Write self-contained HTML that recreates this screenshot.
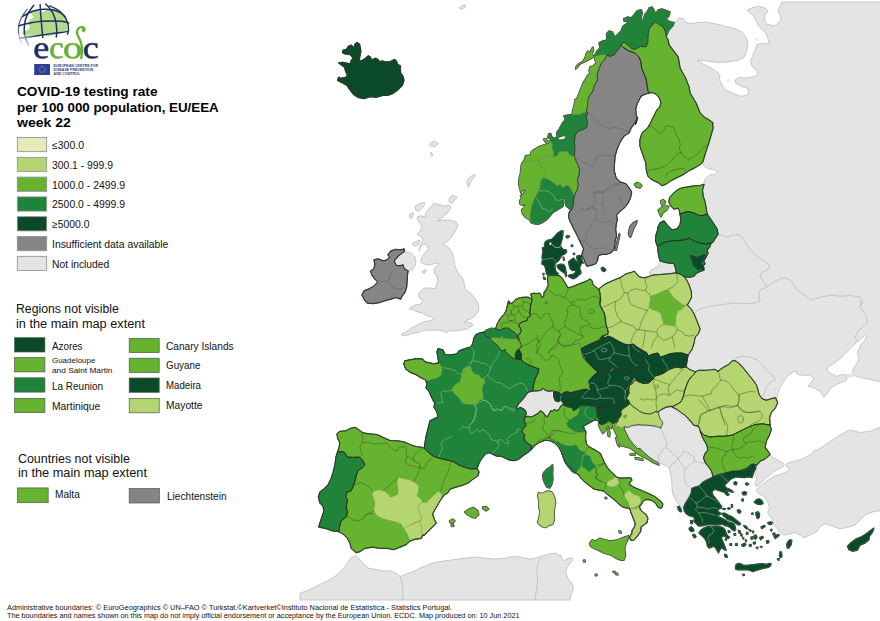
<!DOCTYPE html>
<html><head><meta charset="utf-8"><title>COVID-19 testing rate map</title>
<style>
html,body{margin:0;padding:0;background:#fff;}
body{width:880px;height:621px;position:relative;overflow:hidden;font-family:"Liberation Sans",sans-serif;color:#000;}
#map{position:absolute;left:0;top:0;width:880px;height:621px;}
.t{position:absolute;white-space:nowrap;line-height:1;transform-origin:0 0;color:#111;}
.title{font-weight:bold;color:#000;}
svg .sw{stroke:#8e8e8e;stroke-width:0.8;}
svg .sw2{stroke:#4d5a4d;stroke-width:0.7;}
svg .ni{fill:#e4e4e4;stroke:#bcbcbc;stroke-width:0.8;stroke-linejoin:round;}
svg .c0{fill:#e8ebb9;} svg .c1{fill:#b4d56f;} svg .c2{fill:#65b32e;} svg .c3{fill:#1f8339;} svg .c4{fill:#0b4a28;} svg .na{fill:#858585;}
svg .us use{fill:none;stroke:#1f2e1f;stroke-width:1.4;stroke-linejoin:round;}
svg .fl use{stroke:#7d8f6a;stroke-width:0.4;stroke-linejoin:round;}
svg .fl .c4{stroke:#5f8a6a;}
svg .fl .na{stroke:#6a6a6a;}
svg .nat use{fill:none;stroke:#1f2e1f;stroke-width:0.75;stroke-linejoin:round;}
svg .rb{fill:none;stroke:#3b4a28;stroke-opacity:.6;stroke-width:0.75;stroke-linejoin:round;stroke-linecap:round;}
svg .rbf{fill:none;stroke:#a6c8ac;stroke-opacity:.62;stroke-width:0.75;stroke-linejoin:round;stroke-linecap:round;}
svg .rbd{fill:none;stroke:#c4dcc8;stroke-opacity:.5;stroke-width:0.8;stroke-linejoin:round;stroke-linecap:round;}
svg .rbg{fill:none;stroke:#3a3a3a;stroke-opacity:.33;stroke-width:0.7;stroke-linejoin:round;stroke-linecap:round;}
svg .fl .w{fill:#fff;stroke:#2b3a2b;stroke-width:0.4;}
svg .fj{fill:none;stroke:#cfe0cf;stroke-width:0.7;}
svg .w2{fill:#fff;stroke:#c9c9c9;stroke-width:0.4;}
svg .nif{fill:#e4e4e4;stroke:none;}
svg .nb{fill:none;stroke:#bcbcbc;stroke-width:0.8;stroke-linejoin:round;}
</style></head><body>
<svg id="map" viewBox="0 0 880 621" width="880" height="621">
<g id="geo">
<polygon class="ni" points="673.8,23.8 676.2,21.2 678.8,18 683.8,18.8 685,22 690,23.8 697.5,22.5 706.2,22 715,23.8 725,26.2 735,28.8 742.5,32.5 746.2,37.5 748,43.8 747,51.2 743.8,57.5 737.5,60.5 727.5,62 717.5,62.5 707.5,61.2 697.5,60 703.8,64.5 710,67.5 716.2,71.2 720,75 719.5,80 722,85 725.5,90 732.5,93 740,96.2 746.2,95.5 748.8,92 747,88 741.2,86.2 736.2,83.8 735,80 738.8,77.5 747.5,78 755,76.2 758,73.8 756.2,70 752,66.2 750.5,61.2 752.5,56.2 755,50 757,44.5 762.5,43 769.5,44.5 768,38.8 766.2,33.8 762.5,30 758.8,26.2 756.2,21.2 753,15 748.8,12 747.5,10 752.5,7.5 758.8,6.2 765,8 768,11.2 765,15 764.5,20 766.2,23.8 773.8,26.2 777.5,23.8 781.2,20 780,15 778,11.2 780,6.2 782,2 881.2,2 881.2,382 870,379.5 860,377.5 853,375 852.5,370 855,366.2 858.8,360 857.5,352.5 860,346.2 863.8,341.2 867,337 864.5,335.5 860,339.5 855,343.8 850,348.8 845,353.8 840,358.8 835,362.5 830,365.5 827,368.8 828.8,372.5 832.5,374.5 836.2,376.2 841.2,375 846.2,374.5 848,376.2 846.2,380 841.2,382.5 835,385 830,388.8 827,393.8 823.8,397 820,391.2 813.8,388 808,386.2 811.2,382.5 813.8,378.8 810,375 805,375.5 800,375 797,373.8 796.2,370.8 792.5,372.5 787.5,376.2 783.8,381.2 780,387.5 777.5,395 777,398.8 765,400 735,382.5 695,375 685,372.5 685,350 685,300 682.5,280 682.5,272.5 697.5,245 707.5,215.5 707,210 705,202 703,196 702.4,190 703.6,184.4 704.4,181 706,178 710,175 715,174.4 717.6,172 715,170 709,169 704,166 702.4,162.4 690,162.4 690,110 665,75 660,25"/>
<polygon class="w2" points="755.5,38.8 757,38.2 757.5,40 756,40.5"/>
<polygon class="w2" points="727,80.5 729,79.5 729.5,82 727.5,82.5"/>
<polygon class="ni" points="881.2,427 870,431.2 860,432.5 850,430 840,435 832.5,440 825,445 817.5,450 815,450 810,455 802.5,458.8 795,461.2 787.5,463 786.2,466.2 790,468.8 786.2,472 780,474.5 773.8,476.2 770,478.8 765,482.5 760,486.2 756.2,490 758.8,493.8 763.8,496.2 767.5,501.2 769.5,507.5 767.5,512.5 770,516.2 772.5,520 773.8,525 777.5,528.8 780,532.5 785,535 790,533.8 795,532.5 800,535 803.8,538 810,535 817.5,531.2 820,526.2 825,523.8 832.5,526.2 840,528.8 847.5,527.5 855,525 860,520 865,515 872.5,512 881.2,510.5"/>
<polygon class="ni" points="757,464.5 760,461.2 765,458.8 770,455 773.8,458 778.8,460.5 783,463 784.5,465.5 781.2,468 776.2,470 772,472.5 769.5,475.5 766.2,478 762,482 758,485.5 755.8,486.2 755,482.5 757,478.8 755.5,475 754.5,471.2 756.5,468.8"/>
<polyline class="nb" points="717,235 722.5,235.5 727.5,237.5 732.5,235 738.8,234.5 743.8,238.8 747.5,246.2 753.8,253.8 760,258.8 766.2,262.5 770,265.5 767.5,270 761.2,273 760,276.2 763.8,282.5 767.5,287 772.5,282.5 780,278.8 786.2,278 791.2,281.2 795,287.5 798.8,291.2 805,295 811.2,300 820,297.5 830,295 840,296.2 850,295.5 860,297 862.5,302.5 861.2,305"/>
<polyline class="nb" points="767.5,287 760,290 758.8,295 760,301.2 755,303 745,303.8 735,303 722.5,304.5 710,306.2 700,308.8 695,312.5"/>
<polyline class="nb" points="861.2,300 860,307.5 866.2,315 867.5,322.5 862.5,327.5 857.5,331.2 855,337.5 857.5,341.2"/>
<polyline class="nb" points="735,358 742.5,356.2 750,357 757.5,360 762.5,365 767.5,371.2 772.5,375 775.5,380 770,382.5 766.2,387.5 763.8,393.8 762.5,398.8 765,400"/>
<polygon class="ni" points="434,203.4 439,204.6 444,206 449,205 451,207 449,211 445,215 441,218.6 437,221 443,220 450,220 456,222 458,225 456,230 453,235 450,239 447,242 443,244 446,246 450,249 453,254 454,260 455,266 457,271 460,275 463,279 464.6,285 465.4,289 470,293 475,298 478,303 479,307 479,307 478,312 474,317 468,320 464,322 471,323 473,325 468,328.6 462,330 455,331 449,330.6 446,333 444,331 438,330 431,330.6 425,330 420,332 414,333 408,335 403,336 401,334 406,332 410,329 415,326 420,323.4 425,321.4 431,320.6 434,318.6 432,316.6 427,316 422,313 415,311 410,308 410,310 411,307 415,305 421,304 423,300 419.4,298 418.6,294 421,291 424,288 430,288 435,289 436,286 438,281 437,277 434,272 435,268 439,264 436,263 430,265 424,264 420.6,262 422,257 425,253 428,249 427,245 424,244 421,246 419,251 420,246 422,242 423,238 420,236 417,234 420,231 422,227 420,223 417,219 418,216 422,216 426,217 425,214 428,210 430.6,207"/>
<polygon class="ni" points="415,206 419,204 424,202 425,204 422,208 418.6,211 416,210.6"/>
<polygon class="ni" points="410,214 413,212.6 413.4,215 411.4,218.6 409.4,217.4"/>
<polygon class="ni" points="413,243 417,241 420,240 419,244 415,246.6 412.6,245"/>
<polygon class="ni" points="422,272 425,269.4 426.6,270.6 424,274"/>
<polygon class="ni" points="394,261 398,256 402,253 407,252 412,253.4 415,257 416,262 415,266 412,270 408,271 404,268.6 403,265 400,266 396,265.4"/>
<polygon class="ni" points="516,410 517,406 519,403 522,400 525,396 528,392 532.4,391 536.4,390.8 540.5,390.4 543.3,388.1 545.3,390.4 549.4,391.1 552.8,390.4 554.2,391.8 553.5,395.2 554.9,398.6 558.3,400.7 561,402 563.1,401.3 563.8,404.1 561,406.1 559,409.6 556.3,410.9 554.2,409.6 552.8,411.6 550.8,410.9 549.4,413.7 547.4,417.1 545.3,415.7 543.3,413 540.5,410.9 537.8,413.7 534.4,415.7 531.6,417.1 528.2,416.4 526.2,414.3 525.5,410.9 523.4,408.9 520,407.5 520,409"/>
<polygon class="ni" points="300,593.2 310,589.5 320,584.5 330,579.5 337.5,574.5 343.8,568.2 348.8,560.8 352.5,556.5 356.2,555.8 360,559.5 363.8,564.5 368.8,568.2 375,569.5 382.5,570.8 390,570.8 396.2,573.2 400,576.5 405,574.5 412.5,572 420,568.2 427.5,565 435,562.5 445,560.8 455,559.5 465,558.2 475,557 485,558.2 495,559 505,558.2 512.5,556.5 520,557 530,559.1 535.1,558.3 540.2,556.6 547.1,554.8 552.2,553.5 556.5,553.1 558.2,555.7 560.7,554.8 561.6,558.3 564.1,560.8 568.4,558.3 571.8,557.4 572.7,560 570.1,563.4 567.5,566.8 565.8,571.1 566.7,575.3 568.4,579.6 571.8,583 573.5,586.4 572.7,590.7 571,594.1 570.1,600.1 300,600"/>
<polyline class="nb" points="400,576.5 402,582 403,592 402.5,600"/>
<polygon class="ni" points="624,428 629,426 635,425 642,425.4 649,426 656,427 661,428 662,423 660,419 658,415 659,411 662,408 667,406.6 671,407.4 675,410 679,413 683,417 688,420 692,423 695,427 699,426 701,429 700,433 702,436 704,440 707,445 708,450 705,454 703.6,458 705.6,463 709,467 712,472 715,477 710,482 704,485.4 698,488.6 693,491.4 690,495.4 688,501 686,506 683.2,507.6 682.4,507 679,505 675,499 672.4,493 672,486 671.6,479 670.4,473 669,468 666,466 662,464 658,463 653,460 648,456.6 644,453 640,449 636,445 632,441 629,437 626,432"/>
<polyline class="nb" points="661,428 663,433 665,438 667,443 665.6,447 663,450 660,453 658,457 659,462"/>
<polyline class="nb" points="665.6,447 670,451 674,455 678,458 682,455 683,451 686,452 690,454 694,457 695,461 691,464 688,467 685,469"/>
<polyline class="nb" points="678,458 676,462 672,464 670,468"/>
<polyline class="nb" points="678,458 680,462 685,469 684,474 685,479 686,484 689,487"/>
<polyline class="nb" points="695,461 700,463 705.6,463"/>
<polyline class="nb" points="541.1,557.4 538.5,561.7 536.8,568.5 537.2,575.3 537.7,582.2 536.5,589 535.1,600.1"/>
<polygon class="ni" points="660,260.6 664,262 669,263 674,263.4 675.6,268 676,273 668,274 660,274.6 652,275.4 649,273 651,270 655,268 659,265"/>
<polygon class="ni" points="429.2,144.4 431.7,141.8 435.6,141.6 438.4,143.5 436.2,145.2 434.3,147.4 432.4,146.1 430.2,146.1"/>
<polygon class="ni" points="430.4,152.1 431.7,152.5 432.8,155.7 431.5,156.4"/>
<polygon class="ni" points="466.5,182.1 468.4,178.3 471.6,175.7 474.5,174.4 474.8,176.3 472.3,179.5 470.3,182.8 469.1,186.6 468,187.3 467.8,184.1"/>
<polygon class="ni" points="448.7,200.1 450.4,196.9 453,195 453.6,196.9 456.2,196.3 456.8,198.2 454.3,200.1 452.3,203.4 449.7,202.7"/>
<polygon class="ni" points="459,8 462,5.5 466,5 465,7.5 461,9.5"/>
<polygon class="nif" points="846,374.2 854,373.5 854.5,376.5 847,378"/>
<defs>
<polygon id="p0" points="357.1,42.6 359.6,44.4 360.8,51.4 359.2,59.5 360.2,61.4 364,59.5 368.4,55.8 370.3,57 371.5,60.2 375.3,58.3 377.8,59.5 380.3,62.7 381.6,60.8 385.3,62 389.7,62 394.7,59.5 396.6,61.4 397.3,64.5 400.4,65.8 400.4,72.7 402.9,76.5 403.9,80.3 402.3,85.3 397.9,89.7 392.9,93.4 387.8,95.3 382.8,95.3 376.5,97.2 370.3,96.6 364,98.5 357.7,97.2 353.3,94.1 349.5,89 347,85.3 342.6,82.8 337.6,80.3 338.8,77.1 340.1,78.4 345.1,77.7 347.6,75.9 345.8,71.5 344.5,67.1 338.8,62.9 342.6,62.4 350.2,63.9 351.4,60.2 353.3,58.3 350.2,54.5 345.1,53.9 342.6,52.6 343.2,50.1 346.4,49.5 348.3,46.3 351.4,45.1 353.9,48.2 355.2,43.8"/>
<polygon id="p1" points="621,45 624,48 629,51 635,53 639,57 641,62 641.6,68 644,74 646,79 647,85 648,91 649,93 645,94 641,96 639,100 637,104 635.6,109 636,114 637,118 635.6,124 637.6,118 634,124 631,128 629,133 624,136 620,142 617,149 615,156 614.4,164 614,170 616,178 620,182 626,184 629,188 631.6,192 630.4,198 628,203 624,208 619,212 616.4,215.1 617.2,219.9 616.1,224.7 615.6,229.4 616.4,235.8 615.2,240.6 614.5,245.4 613.6,250.2 610.8,252.6 606.9,254.2 602.1,254.2 598.1,255.8 597.6,259.7 595.7,263.7 590.9,265.3 586.9,266.1 585.3,262.9 583.7,258.1 581.7,255 582.6,252.6 583.7,248.6 582.1,245.4 579.7,240.6 577.4,235.8 575,231 572.6,226.3 570.2,221.5 568.6,216.7 569.4,211.9 571.5,210.3 573,206.3 573.7,200.7 574.2,195.9 575,194.1 577.4,189.3 578.1,184.5 577.4,179.7 578.9,175 579.7,170.2 578.1,165.4 575.8,160.6 574.2,155.8 575,147.8 574.2,141.5 575.3,135.1 578.1,131.1 582.9,129.5 586.9,127.1 587.4,122.3 586.1,116.7 588,112 586.4,112 587.6,105 588,99 590,95 593,91 594,86 597.6,80 597,75 599,69 601,64 605,59 607,55 610,56.4 614,55 617,51 620,47"/>
<polygon id="p2" points="615.2,250.2 617.2,240.6 619.3,233.4 619.9,235 618.3,242.2 616.4,250.2"/>
<polygon id="p3" points="628.4,232.6 630,226.3 633.2,222.7 637.2,220.7 636.4,223.9 634,227.8 632.4,232.6 630.5,237.4 628.9,235.8"/>
<polygon id="p4" points="655.6,22 663,27 665.6,32 666,36.6 668,40 669,45 672,49 675,53 678,57 679,62 680,68 682,72 685,77 687,82 689,87 690,93 693,98 696,103 698,108 700,113 704,117 709,120 713,123 712.4,123 713,128 711,135 709,142 707,148 705,154 703.6,159 702.4,162.4 700,164.4 696,167 690,170 684,174 678,177 672,180 666,184 662,185.6 659,183 655,181 651,179 648,176 646.4,170 646,163 644,158 642,152 640,146 640,140 641,136 643,132 647,129 650,124 651,122 653,118 655,114 657,110 660,107 661,102 659,97 656,94 652,92.4 649,93 648,91 647,85 646,79 644,74 641.6,68 641,62 639,57 635,53 629,51 624,48 621,45 624,42 628,45 632,49 636,49 640,46.4 646,47 648,42 648,36 649,29 652,25"/>
<polygon id="p5" points="594,56.6 595,60 596,63 593,66 590,67 589,71 590,73 587,76 585,80 583,83 581,88 579,93 577,98 575,104 573,109 572.4,112 572,115.4 579,113.6 586.4,112 587.6,105 588,99 590,95 593,91 594,86 597.6,80 597,75 599,69 601,64 605,59 607,55 603,54.4 598,55.6"/>
<polygon id="p6" points="594,56 592,58 588,60 584,62 580,64 577,68 575.6,69 576.4,66 579,63.6 583,61 585,58 586,54 588,51 590,52.4 592,48 593,47 593.6,50 592,55"/>
<polygon id="p7" points="594,56 597,51 600,48 599,43 603,41 607,40 606.4,34 609,31 612.4,32 615,37 618,34 621,31 623,26 626,24 629,22 624,21 623.6,19 628,17 631,18 634,15 637,11 641,9.6 642.4,12 641,20 642.4,22 645,14 647,12 649,8 652,7 654,10 655.6,14 658,10 662,9 666,10.4 670,12 669,16 666,19 669.6,21.6 674,22.4 673,25.6 669,30 666,36.6 665.6,32 663,27 655.6,22 652,25 649,29 648,36 648,42 646,47 640,46.4 636,49 632,49 628,45 624,42 621,45 620,47 617,51 614,55 610,56.4 607,55 603,54.4 598,55.6 594,56.6"/>
<polygon id="p8" points="572.6,114.7 573.4,109.6 574.2,104.8 575,99.2 589.3,99.2 588.5,106.4 588,112 582.9,113.1 578.9,114.7"/>
<polygon id="p9" points="572.6,114.4 578.9,114.7 582.9,113.1 588,112 586.1,116.7 587.4,122.3 586.9,127.1 582.9,129.5 578.1,131.1 575.3,135.1 574.2,141.5 575,147.8 574.2,155.8 570.2,155.8 567.8,151.8 563.8,151.4 559.3,151.8 557.4,155.8 554.2,157.1 552.6,155 553.4,151.8 551.8,147.8 552.6,144.7 550.7,141.8 551,139.1 547.8,137.5 548.6,133.8 550.7,133.5 551.8,137 555,138.3 557.1,136.7 556.6,132.7 559,129.5 560.6,126.3 563,122.3 565.4,119.1 563.8,115.9 567,115.2 570.2,114.7"/>
<polygon id="p10" points="558.2,138 562.2,136.4 565.1,135.9 565.4,138.3 562.2,139.6 558.7,139.6"/>
<polygon id="p11" points="550.7,141.8 547.8,143.9 545.5,144.3 542.3,145.5 538.3,147 534.3,149.4 531.1,151.8 530.3,155 525.5,155.8 523.9,160.9 531.9,161.4 539.1,160.6 542.3,157.7 547.8,156.1 553.4,155.5 553.4,151.8 551.8,147.8 552.6,144.7"/>
<polygon id="p12" points="543.4,139.2 546.3,138.6 547.2,141.1 550.2,140.7 550.7,141.8 547.5,143.4 545.5,142.3"/>
<polygon id="p13" points="523.9,160.9 521.5,163.8 520.7,168.6 520.4,173.4 519.1,178.1 518.8,182.9 519.5,187.7 520.7,192.5 522.3,195.7 518.8,184.8 519.9,189.6 520.7,192 523.9,189.6 525.5,190.4 523.1,194.4 520.4,195.9 521.5,198.3 519.5,200.7 519.9,203.9 522.3,205.5 525.5,203.9 523.9,207.9 521.5,209.5 522.3,213.5 525.5,217.5 529.5,219.9 531.1,222.7 530.3,217.5 530.6,211.9 531.9,205.5 534.3,199.1 537.5,193.6 539.6,187.2 542.3,180 539.6,189.3 539.9,184.5 540.7,181.3 543.1,178.1 545.5,174.2 544.7,170.2 541.8,166.2 539.6,163 539.1,160.6 531.9,161.4"/>
<polygon id="p14" points="539.1,160.6 542.3,157.7 547.8,156.1 553.4,155.5 554.2,157.1 557.4,155.8 559.3,151.8 563.8,151.4 567.8,151.8 570.2,155.8 574.2,155.8 575.8,160.6 578.1,165.4 579.7,170.2 578.9,175 577.4,179.7 578.1,184.5 577.4,189.3 575,194.1 573.7,195.7 572.6,192.5 570.2,187.7 567.8,185.3 565.4,186.1 563,187.7 559.8,184.5 557.4,186.1 554.2,183.7 550.2,180.5 546.3,178.5 543.1,178.1 545.5,174.2 544.7,170.2 541.8,166.2 539.6,163"/>
<polygon id="p15" points="543.1,178.1 546.3,178.5 550.2,180.5 554.2,183.7 557.4,186.1 559.8,184.5 563,187.7 565.4,186.1 567.8,185.3 570.2,187.7 572.6,192.5 573.7,195.7 574.2,195.9 573.7,200.7 573,206.3 571.5,210.3 571,210.3 568.6,207.9 565.7,205.5 565.4,200.7 564.6,196.7 563,199.1 563.8,202.3 563,206.3 560.6,207.9 556.6,210.3 552.6,212.7 549.4,216.7 546.3,219.9 542.3,222.7 538.3,224.3 534.3,223.9 531.1,222.7 530.3,217.5 530.6,211.9 531.9,205.5 534.3,199.1 537.5,193.6 539.6,187.2 542.3,180 539.6,189.3 539.9,184.5 540.7,181.3"/>
<polygon id="p16" points="563,230.8 562.8,234.4 562.2,238.6 560.9,242.7 560.4,246.3 563,249.4 566.1,249.9 566.6,252 564.5,254 562,255.1 560.4,257.6 558.9,260.2 557.3,261.8 555.3,263.3 554.7,265.9 555.3,269.5 556.3,272.1 558.4,273.6 557.3,275.2 553.7,275.2 549.6,275.2 546.5,274.1 546,271 545.5,267.9 544.4,265.4 541.9,263.8 542.4,260.2 542.2,256.1 542.9,252 542.4,247.8 544.9,246.8 544.4,244.2 545.5,241.6 548,240.1 552.2,239.1 554.7,236.5 557.3,233.4 560.4,231.3"/>
<polygon id="p17" points="549.1,244.7 549.6,242.2 551.1,241.9 551.9,244.2 550.6,245.3"/>
<polygon id="p18" points="557,265.4 559.9,264.3 563.5,264.5 565.1,266.9 565.6,270 566.1,272.1 564.5,273.1 562,271.5 559.4,269.5 557.6,267.4"/>
<polygon id="p19" points="565.1,272.8 566.1,272.3 566.3,275.7 565.6,276.7"/>
<polygon id="p20" points="568.7,261.8 571.2,259.7 573.8,258.1 575.4,260.7 576.4,261.8 577.4,263.3 578.5,262.8 577.6,261.2 576.9,258.4 576.9,256.1 579.5,255.3 581.5,256.6 582.1,259.7 582.6,261.8 583.6,262.8 581.5,263.3 580.5,265.4 579.5,267.9 580.5,270.5 581,273.1 578.5,275.2 575.9,277.7 573.3,278.8 569.7,277.2 568.1,275.7 570.7,274.6 573.8,274.1 575.9,272.1 575.4,270 572.3,270.5 570.2,268.5 569.2,265.4"/>
<polygon id="p21" points="601.1,268.5 602.7,267.2 604.7,268.5 605.8,270 604.2,271.5 602.2,270.7"/>
<polygon id="p22" points="566.1,236.5 568.1,235.7 569.7,236.3 568.1,237.7 566.6,237.7"/>
<polygon id="p23" points="571.2,245.3 572.5,244.9 572.8,246.3 571.5,246.5"/>
<polygon id="p24" points="573.3,253.5 574.5,253.2 574.6,254.3 573.5,254.5"/>
<polygon id="p25" points="563,257.1 563.8,257.3 564.5,260.2 563.8,260.4"/>
<polygon id="p26" points="542.9,273.6 543.9,273.4 543.7,275.2"/>
<polygon id="p27" points="543.4,277.2 544.9,277.7 545.5,279.3 543.9,279"/>
<polygon id="p28" points="704,184.4 700,185.6 694,186 688,187 682,188 678,189.6 675,192 672,195 669.6,198 669,202 671,206 674,209 678,208 679.6,211 680,214 685,212 689,211.6 694,213 698,215 702,215.6 707,214 706,208 705,202 703,196 702.4,190"/>
<polygon id="p29" points="660.4,201 663,199.6 665.6,201.6 664.4,204.4 661.6,205"/>
<polygon id="p30" points="658,210 662,207 667,205.6 669,206.4 667,210 663,213 661,217 659.6,214"/>
<polygon id="p31" points="634.4,184.4 637,182.4 640,183.6 642,186 640,188 636,187"/>
<polygon id="p32" points="680,214 685,212 689,211.6 694,213 698,215 702,215.6 707,214 717,229 718,234 713,242 711,243 706,244 700,243 694,241 689,238 684,240 676,240.6 668,241.4 662,243.4 657.6,246.6 655.6,241 656,235 658,229 657.6,228 660,223 664,221 667,225 672,230 677,229 680,225 681,219"/>
<polygon id="p33" points="657.6,246.6 662,243.4 668,241.4 676,240.6 684,240 689,238 694,241 700,243 706,244 711,243 709.6,247 707,250 708,253 706,257 703.6,261 705,264 702.4,266 704,270 700,271.4 696.4,273 694,276 689,277.4 684,276.6 680,274 676.4,273 675.6,268 674,263.4 669,263 664,262 660,260.6 659,257 658,251"/>
<polygon id="p34" points="689,254 692.4,255 697,256.6 701,255 705,253.4 706,256 704,260 702,263 704,268 703,270.6 700,269.4 698,271.4 695.6,268 693,267 692,263 691,259 689.6,256.6"/>
<polygon id="p35" points="599,290 600,288 604,285 610,282 616,279.4 621,277.4 626,274 631,272.6 634.4,271.4 636.4,274 639,277 644,278 649,276.6 652,275.4 660,274.6 668,274 676.4,273 680,274 684,276.6 687,281 689,285 691,291 691.6,297 689,302 687,305 691,309 694,314 696,319 698,324 700,329 698,334 695,337 694,343 692,349 688,355 682,353 675,353 669,354 664,356 660,357 658,353 653,354 648,356 647,353 642,350 637,347 633,344 629,345 624,344 618,341 613,338 608,336 605,338 602,336 608,334 607.6,330 606,325 605,319 604,313 601.6,309 599.6,305 601,300 600,295"/>
<polygon id="p36" points="651,296 657,294 663,291 668,289.4 671,294 674,298 678,301 682,304 685,306 682,309 678,311 676,316 675.6,322 675,326 670,325.4 664,324.6 662,319 661,314 657,311 652,310 649,307 650,301"/>
<polygon id="p37" points="548,275.6 559,275.6 562,278 565,283 568,288 572,287 577,285 582,283 587,281 590,279 592,281 593,285 597,288 599,290 600,292 600.4,297 599.6,303 601.6,308 604,312 605.6,318 606,324 607.6,329 608.4,332 607.6,334.4 604,335.6 603,338.4 599,341 594,343 589,345 584,347 581,349 582,353 583.6,358 588,363 593,368 597.6,371 599,374 594.6,374.7 591.8,377.4 589.1,380.8 588.4,383.6 590.4,385 589.8,387.1 590.9,389.6 589.3,390.7 586.2,389.1 583.1,389.6 579,390.7 574.9,391.7 570.8,392.7 566.6,391.7 563.6,392.7 561.5,394.8 559.4,392.7 556.3,391.7 553.8,392.2 554.2,391.8 552.8,390.4 549.4,391.1 545.3,390.4 543.3,388.1 540.5,390.4 536.4,390.8 533,390.8 533.6,384 535,379 537.6,374 539,369.6 536.5,368.1 532.8,366.5 528.6,364.9 525.5,363.4 523.4,361.8 521.1,359.2 521.5,357.1 521.3,354 520,351.3 518.7,349.2 520.8,347.7 521.5,345.6 520.2,342.4 519.2,339.8 518.3,337.7 518.1,335.6 520.2,333 521.3,330.4 520.2,327.8 518.7,325.7 520.2,323.1 523.4,321.5 527,320.5 527.6,317.8 530.7,315.8 529.6,313.1 530.2,310 530.3,307.8 530.7,305.1 531.4,302.3 532.1,299.5 531,294 533.4,293.3 536.2,293.7 539.7,293.3 541.1,295.4 541.7,297.5 543.8,296.8 544,293 546,290 548.4,285 547.6,280"/>
<polygon id="p38" points="532.1,299.5 530.7,298.8 528.9,297.5 525.8,297.3 522.4,297.5 518.9,298.1 516.1,299.5 514.1,301.3 512,303.3 508.9,304 509.6,301.6 508.5,301.3 507.5,305.1 506.8,308.5 505.8,311.6 504.4,314.1 502.3,316.5 500.2,318.9 498.5,321.7 497.1,324.4 496.7,325.7 495.6,328.8 500.3,329.9 504.5,328 508.7,328 511,330.4 514,332 516.9,334.6 517.3,336.7 516.6,338.3 517.6,339.5 519.2,339.8 518.3,337.7 518.1,335.6 520.2,333 521.3,330.4 520.2,327.8 518.7,325.7 520.2,323.1 523.4,321.5 527,320.5 527.6,317.8 530.7,315.8 529.6,313.1 530.2,310 530.3,307.8 530.7,305.1 531.4,302.3"/>
<polygon id="p39" points="489.9,337.4 493,337.7 496.2,337.4 500.3,337.7 503.5,338.3 507.7,338.5 511.9,339.1 515,338.8 516.6,338.3 519.2,339.8 520.2,342.4 521.5,345.6 520.8,347.7 518.7,349.2 516.6,350.8 515.5,354 515.2,356.6 516,358.7 514,358.7 511.3,357.1 509.2,355 506.6,352.9 505.6,351.3 505.4,349.2 504,350.3 501.4,350.8 499.8,348.7 497.7,345.6 495.1,343.5 492.5,341.4 490.9,339.8"/>
<polygon id="p40" points="484.1,332 486.7,329.9 490.9,328.3 495.6,328.8 500.3,329.9 504.5,328 508.7,328 511,330.4 514,332 516.9,334.6 517.3,336.7 516.6,338.3 515,338.8 511.9,339.1 507.7,338.5 503.5,338.3 500.3,337.7 496.2,337.4 493,337.7 489.9,337.4 486.2,336.2 484.7,334.1"/>
<polygon id="p41" points="501.2,336.4 502.6,336.2 502.9,337.8 501.4,338"/>
<polygon id="p42" points="516.6,350.8 518.7,349.2 520,351.3 521.3,354 521.5,357.1 521.1,359.2 518.7,359.7 516,358.7 515.2,356.6 515.5,354"/>
<polygon id="p43" points="581,349 586,346 592,343 599,340 602,336 605,338 608,336 613,338 618,341 624,344 629,345 633,344 637,347 642,350 647,353 648,356 645,359 642,364 639,368 635,370 633,372 629,370.6 624,369.4 618,368 612,368 609,372 605,374 599,372 595,370 592,366 588,362 585,357 583.6,353"/>
<polygon id="p44" points="648,356 653,354 658,353 660,357 664,356 669,354 675,353 682,353 688,355 687,361 686,367 681,368 677,367 673,368 668,370 664,373 659,375 655,376 653,379 649,383 643,383.4 639,382 636,379 633,376 633,372 635,370 639,368 642,364 645,359"/>
<polygon id="p45" points="598,371.3 599.3,374 602.1,373.6 605.5,373.3 608.6,374 611,371.9 613,369.9 615.8,367.8 619.9,368.5 624,369.2 628.1,369.9 631.5,371.3 632.2,374.7 634.2,377.4 629.6,385 629.1,387.6 628.6,390.2 629.1,393.2 627.6,395.8 626.5,398.4 628.6,400.5 625.4,402 621.3,403 617.2,404.1 614.1,405.1 611,406.6 608.4,407.9 604.8,407.5 600.7,407.7 597.1,407.2 593.5,406.1 589.3,405.6 585.2,405.1 581.1,405.1 579,407.2 575.9,409.2 573.4,410.8 572.8,408.2 570.3,407.2 567.2,406.6 564.1,405.6 563,402 560.5,399.9 558.4,401.5 555.3,400.5 553.8,396.3 553.8,392.2 556.3,391.7 559.4,392.7 561.5,394.8 563.6,392.7 566.6,391.7 570.8,392.7 574.9,391.7 579,390.7 583.1,389.6 586.2,389.1 589.3,390.7 590.9,389.6 589.8,387.1 590.4,385 589.1,380.8 591.8,377.4 594.6,374.7"/>
<polygon id="p46" points="597.1,407.2 600.7,407.7 604.8,407.5 608.4,407.9 611,406.6 614.1,405.1 617.2,404.1 621.3,403 625.4,402 628.5,400.5 629.6,403 628.6,405.1 625.5,407.2 622.4,409.2 620.9,411.8 621.4,414.4 620.4,417 618.3,419 617.8,421.6 616.2,422.3 613,423.7 611,422.6 608.9,421.1 606.9,422.6 603.8,424.2 601.2,424.7 599.4,423.1 599.6,420.6 598.6,418.5 597.1,415.9 597.6,412.8 596.5,410.3"/>
<polygon id="p47" points="635,380 639,382 643,383.4 649,383 653,379 655,376 659,375 664,373 668,370 673,368 677,367 681,368 686,367 689.2,369.4 692.7,370.8 695.4,372.1 694,374.2 691.3,376.9 688.6,380.4 687.2,383.8 685.8,387.2 684.5,391.3 683.8,394.7 682.7,398.1 681,401.6 678.3,403.6 674.9,405.4 672.1,406.8 672,406 666,407 662,409 659,411 657,412.6 656.4,411.3 653.4,412.8 650.3,413.9 646.1,413.7 642,412.6 639.4,411.3 636.9,409.2 633.8,407.2 631.2,405.1 629.6,403 628.6,400.5 626.5,398.4 627.6,395.8 629.1,393.2 628.6,390.2 629.1,387.6 629.6,385 632,384"/>
<polygon id="p48" points="388,255 391,251 396,249.4 401,250 404,249 404.6,251 402,253 398,256 394,261 396,265.4 400,266 403,265 404,268.6 408,271 407.4,275 407,281 406.6,287 405,292 402,296 400.6,299 396,297.4 391,299 385,300.6 379,302.6 373,303.6 367.4,303 364.6,300 362,295 364,291 369,289 374,286 378,282 375,279 372,275 370.6,271 374,269 375,264 374,260 378,259 383,261 387,260 390,257"/>
<polygon id="p49" points="485,332 480,333 476,334.6 474,338 473,343 471,347 465,348.6 459,351 457,354 451,355 445,354.6 443,350 438,348.6 437,352 438,358 439,363 434,364 429,363 425,362 422,359 416,359 410,360 405,361 404,364 406,369 410,372 415,374 420,377 425,379.4 426,381 427,384 426,388 429,391 431,396 433,400 435,403 434,407 437,412 438,417 430,421 428,429 426,437 425,443 424.4,448.6 428,452 433,456 438,458 444,459.4 450,460.6 454,462 458,464.6 464,467 470,469 477,468.6 479,463 482,458 485.7,453.7 489.7,452.6 493.1,454.3 496.6,456 500,455.8 503.4,457.1 506.9,458.9 510.3,460.3 514.3,460.6 518.3,459.4 521.1,457.1 524,454.9 527.4,452.6 530.3,450.3 530.9,449.7 531.4,445.7 528.6,444 525.7,441.7 524,438.3 524.6,434.9 522.3,432 521.7,429.7 524,428 526.1,425.7 525.1,422.9 524,420 524.6,417.4 526.2,414.3 525.5,410.9 523.4,408.9 520,407.5 516,410 517,406 519,403 522,400 525,396 528,392 532.4,391 533,388 534,383 535.6,378 538,373 539,368.6 536.5,368.1 532.8,366.5 528.6,364.9 525.5,363.4 523.4,361.8 521.1,359.2 518.7,359.7 516,358.7 514,358.7 511.3,357.1 509.2,355 506.6,352.9 505.6,351.3 505.4,349.2 504,350.3 501.4,350.8 499.8,348.7 497.7,345.6 495.1,343.5 492.5,341.4 490.9,339.8 489.9,337.4 486.2,336.2 484.7,334.1 484.1,332"/>
<polygon id="p50" points="439,363 434,364 429,363 425,362 422,359 416,359 410,360 405,361 404,364 406,369 410,372 415,374 420,377 425,379.4 428,380.6 433,379 438,377.4 441,375 442,370 441,366"/>
<polygon id="p51" points="463,369 468,366 471,367 472,371 474,374 479,375 481,378 484,379 485,382 483,385 482,389 483,394 483,399 479,401 476,404 471,404.6 466,404 462,403 460,399 457,396 454,393 451.6,390 453,387 456,384 460,382 461,378 462,373"/>
<polygon id="p52" points="544,472 547,469 550,467 552.6,464.6 553,469 552.6,474 553,479 552,484 550,488 547,487.4 545,484 543,479 542.6,475"/>
<polygon id="p53" points="337,434 340,431.4 346,431 350,428.6 355,427.4 359,430 363,433 370,434 377,434.6 384,438 390,440.6 398,441 404,442 410,444.6 416,446.6 422,447.4 424.4,448.6 428,452 433,456 438,458 444,459.4 450,460.6 454,462 458,464.6 464,467 470,469 477,468.6 479,472 477.6,476 473,479 468,483 462,485.4 456,487 450,489 447.6,493 444,495 441,499 438,504 435,509 432.4,514 434,519 436,523 432,527 428,531 424,535 423,534.5 421.2,538.2 415,539 410,540.8 406.2,544.5 400,547 393.8,549.5 387.5,548.2 380,548.2 372.5,547 365,548.2 360,551.5 356.2,552.5 351.2,548.2 350,543.2 347.5,538.2 343.8,534.5 338.8,531.5 340,524.5 341.2,520.8 346.2,517 347.5,512 346.2,507 347.5,499.5 345.6,497 347,492 351,491 353,487 355,481 356.4,475 358,470.6 362,468 365,465 362.4,460 359,457 353,457.4 347,457 345,453 342,451.4 337.6,452 339,448 340,443 338,439"/>
<polygon id="p54" points="398,477.4 404,478.6 410,480 416,483 419,487 418,492 417,496 421,499 422,502 419.6,505 418,509 420,513 422,518 419,521 414,523 409,526 404,529 401,524 396,522 390,520.6 384,519 379,517 375,513.4 373.6,509 375,504 374,499 372,494 374,491 379,490 384.4,491 389,495 390,497 394,496 398,494 398,489 397,483"/>
<polygon id="p55" points="438,491.4 441,493 442,495 441,499 438,504 435,509 432.4,514 434,519 436,523 432,527 428,531 424,535 423,534.5 421.2,538.2 422,534.5 421.2,527 420,520.8 422,518 420,513 418,509 419.6,505 422,502 426,503 430,499 434,495"/>
<polygon id="p56" points="403.8,528.2 408.8,525.8 415,523.2 420,520.8 421.2,527 422,534.5 421.2,538.2 415,539 410,540.8 407.5,534.5"/>
<polygon id="p57" points="464.5,512 468.8,509 473.8,507.5 478,510.8 478.8,514.5 475,518.2 471.2,517 467.5,515"/>
<polygon id="p58" points="482.5,507 486.2,506.5 488.8,509 486.2,510.8 483,509"/>
<polygon id="p59" points="449.5,520.8 452.5,519 455,520.8 453,523.2 450,522.8"/>
<polygon id="p60" points="451,525 453,524.5 454,526.2 451.8,526.5"/>
<polygon id="p61" points="337.6,452 342,451.4 345,453 347,457 353,457.4 359,457 362.4,460 365,465 362,468 358,470.6 356.4,475 355,481 353,487 351,491 347,492 345.6,497 347.5,499.5 346.2,507 347.5,512 346.2,517 341.2,520.8 340,524.5 338.8,531.5 332.5,530.8 325,528.2 318.8,527 320,523 322,517 324,511 323,506 320,503 318.4,497 320,492 324,489 328,485 331,479 333,473 335,465 336,457"/>
<polygon id="p62" points="530.9,449.7 531.4,445.7 528.6,444 525.7,441.7 524,438.3 524.6,434.9 522.3,432 521.7,429.7 524,428 526.1,425.7 525.1,422.9 524,420 524.6,417.4 528.2,416.4 531.6,417.1 534.4,415.7 537.8,413.7 540.5,410.9 543.3,413 545.3,415.7 547.4,417.1 549.4,413.7 550.8,410.9 552.8,411.6 554.2,409.6 556.3,410.9 559,409.6 561,406.1 563.8,404.1 564.1,405.6 567.2,406.6 570.3,407.2 572.8,408.2 573.4,410.8 575.9,409.2 579,407.2 581.1,405.1 585.2,405.1 589.3,405.6 593.5,406.1 597.1,407.2 596.5,410.3 597.6,412.8 597.1,415.9 598.6,418.5 599.6,420.6 599.4,423.1 598.6,421.1 596,419.5 592.9,420.6 589.3,422.6 585.7,424.7 583.1,426.2 584.2,429.3 585.7,431.9 585.8,432.8 585.4,436.9 585.8,441.1 586.7,444.7 588.6,446.6 591.8,448.4 595,450.2 598.2,452.1 600.5,453.9 601.9,457.1 602.4,458.1 604.4,462.7 607,467.4 610.6,471.5 614.2,475.1 616.3,477.2 619.9,478.2 624,478.2 628.1,477.9 631.2,478.2 631.8,480.3 629.7,482.3 629.2,484.4 632.3,486.4 636.4,488.5 641.5,490.6 646.2,492.6 650.8,494.7 654.9,496.8 658,499.3 661.1,501.9 662.7,504 662.2,506.5 661.1,508.1 658.6,507.6 657,505.5 655.5,502.9 652.9,500.9 649.8,499.8 646.7,499.3 644.1,500.4 642.6,501.9 641.5,504 640.5,505.5 639.2,506.2 640.1,509.6 642.6,512.2 646,514.7 647.7,518.2 646.9,522.4 643.5,525 640.9,526.7 640.6,531 638.4,534.4 635.8,537.8 633.2,540.3 630.7,539.8 629.8,536.9 632,533.5 632.4,530.1 634.4,527.5 635.5,524.1 634.1,519.9 632.4,515.6 631,512.2 629.8,507.9 627,508 623,507 620,505 616,501 611,497 607,494 604,491 599,490 594,489 590,486 585,482 581,478 578,474 575,472.6 572,469 568,465 565,461 563,456 561,451 558,446 555,443 550,440.6 545,440 540,442 535,445"/>
<polygon id="p63" points="579.5,407.2 581.1,405.1 585.2,405.1 589.3,405.6 593.5,406.1 597.1,407.2 596.5,410.3 597.6,412.8 597.1,415.9 598.6,418.5 596,419.5 592.9,420.6 589.3,422.6 585.7,424.7 583.1,426.2 584.2,429.3 585.7,431.9 584.7,431.9 581.1,432.6 577,432.4 573.4,430.9 569.7,428.3 567.2,426.2 566.6,423.1 568.2,420.6 571.3,419.5 572.8,417.5 575.9,415.9 578,413.9 579,410.8"/>
<polygon id="p64" points="556,442 557.8,441.1 560.6,443.3 564.3,444.7 567.9,445.6 571.6,446.1 574.4,444.7 576.7,445.6 578,447.5 579.4,449.8 581.7,451.1 584.9,451.6 585.4,453 583.5,454.8 582.2,457.6 581.7,460.8 581.2,464.4 580.3,467.2 578.5,470 576.7,472.2 574.4,472.7 572.1,471.3 569.8,468.6 567.5,465.8 565.6,463.1 564.3,460.3 563.3,457.1 562,453.4 561.1,450.2 559.2,446.6 557.4,444.3"/>
<polygon id="p65" points="584.9,453.9 587.7,455.3 590.4,456.7 591.3,459.4 592.2,462.2 594.5,464.4 595.9,465.8 595,467.7 592.7,469 590.9,470.9 589,472 586.7,470 584.4,468.1 581.7,466.7 581.7,463.5 582.2,460.3 583.1,457.1"/>
<polygon id="p66" points="606.5,483.4 608.6,480.8 611.6,479.7 614.7,477.2 616.3,477.2 618.4,479.2 619.4,481.8 618.4,484.4 615.8,485.9 612.7,487 609.6,486.4 607,485.9"/>
<polygon id="p67" points="624,494.7 626.1,492.1 629.2,490.6 631.2,492.6 634.3,494.7 638.5,495.7 640.5,497.8 641,500.4 640.5,502.9 638.5,505.5 635.4,507.1 632.8,508.6 630.2,508.6 629.2,506 628.7,502.9 627.1,500.4 625.1,497.8"/>
<polygon id="p68" points="629.8,507.9 632.4,509.1 636.7,508.4 639.2,506.2 640.1,509.6 642.6,512.2 646,514.7 647.7,518.2 646.9,522.4 643.5,525 640.9,526.7 640.6,531 638.4,534.4 635.8,537.8 633.2,540.3 630.7,539.8 629.8,536.9 632,533.5 632.4,530.1 634.4,527.5 635.5,524.1 634.1,519.9 632.4,515.6 631,512.2"/>
<polygon id="p69" points="537.5,495.9 538.6,492.5 542,493.6 545.5,491.8 548.9,490.9 552.3,492.5 554.5,497 555.7,502.7 554.5,508.4 554.1,514.1 554.5,519.8 552.7,524.3 548.9,525.5 545.5,527.7 542,526.6 539.1,524.3 537.5,522 539.1,517.5 539.8,511.8 538.6,506.1 539.1,501.6"/>
<polygon id="p70" points="617.8,421.6 618.3,419 620.4,417 621.4,414.4 620.9,411.8 622.4,409.2 625.5,407.2 628.6,405.1 629.6,403 631.2,405.1 633.8,407.2 636.9,409.2 639.4,411.3 642,412.6 646.1,413.7 650.3,413.9 653.4,412.8 656.4,411.3 657.5,411.8 658.5,414.9 659.5,418 661.1,420.6 662.6,422.6 661.6,425.2 660.6,427.8 658.5,426.8 655.4,425.7 651.3,425.2 647.2,424.7 643,424.7 638.9,424.2 634.8,424.7 630.7,425.7 627.6,427.3 624.5,426.2 621.4,428.3 618.3,426.2 614.7,427.3 616.2,424.7"/>
<polygon id="p71" points="623.5,415.9 625.5,414.4 627.1,415.4 625.5,418 624,418.5"/>
<polygon id="p72" points="598.6,423.7 601.2,424.7 603.8,424.2 606.9,422.6 608.9,421.1 611,422.6 613,423.7 612,426.2 611,428.8 609.4,427.3 607.9,425.7 606.6,427.3 605.8,429.8 604.3,432.4 602.7,433.5 601.2,430.9 599.6,427.8 598.6,425.2"/>
<polygon id="p73" points="613,423.7 616.2,422.3 617.8,421.6 616.2,424.7 614.7,427.3 618.3,426.2 621.4,428.3 624,426.8 624.5,430.4 626.5,434.5 628.6,438.6 631.2,442.2 633.8,445.3 636.9,448.4 640,449 644,453 648,456.6 653,460 658,463 659,465 653,462.6 648,459.4 644,457.4 639,454.6 634,451 630,448 621.4,445.8 619.3,442.7 617.8,438.6 616.2,434.5 614.7,431.4 613.1,428.3"/>
<polygon id="p74" points="607.2,428.6 608.8,428.2 610,433 609.6,437 608,436"/>
<polygon id="p75" points="615.6,438 617.2,437.6 619.2,443 619.6,447 617.6,445"/>
<polygon id="p76" points="630,454 635,453.4 635.2,455 630.4,455.4"/>
<polygon id="p77" points="635,457.4 642.4,458.6 643.2,460.2 636,459.4"/>
<polygon id="p78" points="672.1,406.8 674.9,405.4 678.3,403.6 681,401.6 682.7,398.1 683.8,394.7 684.5,391.3 685.8,387.2 687.2,383.8 688.6,380.4 691.3,376.9 694,374.2 695.4,372.1 698.8,370.4 704.3,370.4 709.8,370.1 714.6,369.4 718,371.7 720.7,369.4 724.8,366.7 728.9,364.6 733,360.5 735.8,361.2 738.5,363.3 741.9,366.7 745.3,370.8 748.1,374.2 750.8,377.6 753.5,381 756.3,385.1 757.6,389.2 759,394.7 762,398.8 766.2,400.5 771.2,398.8 775.5,398 777.5,402.5 775.5,407.5 771.2,412.5 769.5,417.5 770,425 762.5,423.8 755,424.5 747.5,427.5 740,431.2 732.5,435 725,436.2 717.5,436.2 710,437 703.8,435 700.5,431.2 698.8,426.2 693.8,425 690,420 686.2,416.2 681.2,412.5 676.2,408.8"/>
<polygon id="p79" points="700.5,431.2 703.8,435 710,437 717.5,436.2 725,436.2 732.5,435 740,431.2 747.5,427.5 755,424.5 762.5,423.8 770,425 771.2,430 768.8,436.2 766.2,441.2 765,447.5 768.8,452.5 770,454.5 765,458.8 760,461.2 757,464.5 750,465.4 746,468.6 740,470.6 734,472.2 728,472.6 722,473.6 717,475 713,476.6 712,472 709,467 705.6,463 703.6,458 705,454 708,450 707,445 704,440 702,436"/>
<polygon id="p80" points="683.7,507.7 685,504.2 687.1,500.8 689.2,497.4 691.2,493.3 691.9,488.5 695.3,487.1 699.4,485.8 702.8,482.4 706.3,480.3 710.4,478.3 714.5,476.2 718.6,475.5 722.7,474.2 726.8,472.1 730.9,470.7 735.7,470.3 741.1,470.7 745.9,469.4 749.3,467.3 750.7,463.9 753.4,463.2 755.9,465.3 755.5,468.7 753.7,472.1 752.8,475.5 751.8,477.6 748.7,476.9 744.6,477.6 739.8,477.2 735.7,476.9 732.2,478.3 729.5,480.3 727.5,482.4 725.8,483.7 724.7,485.8 726.1,487.8 728.8,488.9 732.2,490.8 733.2,492.2 730.9,491.9 728.1,490.8 726.1,490.3 727.5,492.6 729.1,494.7 727.5,495.4 725.4,493.6 724,491.7 722.7,491.9 719.9,490.8 717.2,489.9 714.5,489.2 712.7,490.6 712.1,493.3 713.5,496 715.8,498.8 717.9,501.5 719.9,504.2 721.7,506.7 720.9,508.4 718.6,509 717.6,511.1 719.5,512.5 721.3,513.5 719.2,514.9 716.5,515.2 717.9,516.6 720.6,517.7 722.7,518.6 725.4,520 728.1,522 730.9,522.7 733.6,523.4 735,526.1 735.7,529.6 734.3,530.9 732.2,529.6 730.2,527.5 727.5,526.1 724.7,525.5 722.7,524.1 719.2,524.8 715.1,525 711,524.5 706.3,524.8 702.1,525.9 698.7,526.1 696.7,524.1 693.9,521.3 694.6,518.6 693.3,516.6 689.8,515.9 686.4,513.8 684.4,511.1"/>
<polygon id="p81" points="721.7,513.5 724.7,513.1 728.1,515.2 731.6,516.6 734.3,518.6 737,520.7 739.8,522.7 740.5,524.5 738.4,524.8 735.7,523.1 733.2,521.3 730.2,520.4 727.5,519.3 725.4,517.2 723.4,515.9"/>
<polygon id="p82" points="699,533 700.8,530.3 703.5,528.2 706.9,526.8 711,526.6 715.1,526.8 719.2,526.6 722.7,527.5 724.7,529.6 726.1,533 727.5,535.7 729.5,537.1 728.1,538.5 725.4,536.4 722.7,535.7 721.3,537.8 722.7,541.2 724,544.6 725.4,548 726.1,550.4 724,549.4 722,547.4 719.9,549.4 718.6,552.8 717.2,550.8 715.8,548 713.8,546 711,547.4 709,548 707.2,545.3 706.7,541.9 705.3,539.2 702.8,536.4 700.8,534.8"/>
<polygon id="p83" points="735.4,567.2 736.3,564.5 738.4,563.5 741.1,564 743.2,565.1 746.6,565.4 750.7,564.9 754.8,564.5 758.9,564 763,563.8 766.4,564.5 769.2,563.5 771,563.8 770.5,565.8 768.5,567.2 765.8,567.9 762.3,568.6 758.9,569.5 755.5,570.6 752.8,571.7 751.4,570.9 748,569.9 744.6,569.5 741.1,569.9 737.7,569.9 735.7,569.2"/>
<polygon id="p84" points="677.5,507 679.3,506.3 680.9,509 681.6,511.4 680.3,511.8 678.5,509.7"/>
<polygon id="p85" points="690.5,520.7 692.2,520.4 692.6,523.4 691.2,523.7"/>
<polygon id="p86" points="689.2,528.2 691.2,526.8 693.5,528.9 693.9,530.9 691.9,531.6 689.8,530.5"/>
<polygon id="p87" points="692.6,535 694.6,534.3 696,536.8 694.4,537.8"/>
<polygon id="p88" points="734,482.4 735.7,481.7 737,483 736.3,484.8 734.3,484.4"/>
<polygon id="p89" points="745.5,483.5 747.3,483 748.7,484.4 746.6,485.1"/>
<polygon id="p90" points="742.2,492.6 744.6,491.7 746.6,492.6 745.9,494.7 743.2,494.9"/>
<polygon id="p91" points="754.1,502.2 756.9,499.5 759.6,499 761.9,500.8 763,503.6 760.3,504.5 756.9,504"/>
<polygon id="p92" points="755.9,512.5 758.2,511.8 759.6,513.8 759.2,517.2 757.6,518.6 756.2,515.9"/>
<polygon id="p93" points="737.3,510.4 739.1,509.7 740.9,511.8 739.8,513.1 738.1,512.5"/>
<polygon id="p94" points="722.7,509 724,508.4 725.4,509 724.2,509.7"/>
<polygon id="p95" points="727.5,508.4 729.1,507.7 730.2,508.6 728.5,509.3"/>
<polygon id="p96" points="731.3,504.9 732.2,504.5 732.7,506.7 731.6,507.3"/>
<polygon id="p97" points="767.8,522.7 770.5,521.8 772.3,522.7 771.2,524.5 768.5,524.1"/>
<polygon id="p98" points="761,526.8 764.4,525.5 765.1,526.4 761.9,528.6"/>
<polygon id="p99" points="741.8,499.5 743.2,499 743.5,500.8 742.1,501.1"/>
<polygon id="p100" points="751.8,513.1 752.9,512.9 753,514.2 751.9,514.4"/>
<polygon id="p101" points="724.7,554.2 726.4,554.9 727.5,556.9 726.1,557.6 724.7,555.8"/>
<polygon id="p102" points="742.8,574.4 744.1,574.2 744.4,575.4 743.1,575.5"/>
<polygon id="p103" points="786.6,544.6 787.9,541.9 790,539.8 791.8,540.5 791.1,544.6 789,548 787.4,548"/>
<polygon id="p104" points="780.1,551.7 781.5,552.1 781.9,556.7 780.5,557.6 779.4,555.8"/>
<polygon id="p105" points="777.4,559 779.2,558.6 778.8,560.4"/>
<polygon id="p106" points="774,536.4 778.1,534.4 779.2,535.3 775.3,538.5"/>
<polygon id="p107" points="772.9,533.4 774.7,533 775.1,534.8 773.3,535"/>
<polygon id="p108" points="770.5,529.6 771.9,529.3 771.5,531.2"/>
<polygon id="p109" points="743.6,525.5 745.9,526.2 747.7,528.2 746.6,528.9 744.6,527.1"/>
<polygon id="p110" points="748.7,529.3 751,530.3 750.4,531.2"/>
<polygon id="p111" points="752.1,530.9 753.7,531.6 753.2,533"/>
<polygon id="p112" points="754.1,535.7 755.9,535 756.9,537.1 755.5,539.2 754.1,538.1"/>
<polygon id="p113" points="751,537.1 752.8,536.7 752.9,538.9 751.3,539.2"/>
<polygon id="p114" points="746.6,532.3 748,532.6 747.7,534.4 746.3,534"/>
<polygon id="p115" points="738.4,530.3 740,530.9 740.5,533 739.1,533"/>
<polygon id="p116" points="740.9,533.7 742,534.4 741.7,536.1 740.6,535.3"/>
<polygon id="p117" points="742.5,537.1 743.9,537.8 743.2,539.2"/>
<polygon id="p118" points="745.2,539.8 746.6,540.5 745.9,541.9"/>
<polygon id="p119" points="741.8,544.6 744.6,543.3 745.9,544.4 743.9,546.3 742.2,546"/>
<polygon id="p120" points="735.4,543.9 737,543.5 737.3,545.3 735.7,545.4"/>
<polygon id="p121" points="729.9,543.9 731.3,543.5 731.6,545.3 730.2,545.4"/>
<polygon id="p122" points="753.2,542.6 755.1,541.9 755.5,543.5 753.7,544.1"/>
<polygon id="p123" points="756.2,547.4 757.8,547.1 757.6,548.7"/>
<polygon id="p124" points="749.3,544.6 751,544.4 751.3,546 749.6,546.3"/>
<polygon id="p125" points="759.6,537.8 762.3,536.4 763.3,537.5 760.6,539.8"/>
<polygon id="p126" points="766.4,541.2 768.5,540.5 768.8,542.6 766.9,543.3"/>
<polygon id="p127" points="760.3,546.7 761.7,546.3 761.9,547.6"/>
<polygon id="p128" points="728.1,530.9 729.5,530.7 729.9,532.3 728.5,532.6"/>
<polygon id="p129" points="734,533.7 735.4,533.4 735.7,535 734.3,535.3"/>
<polygon id="p130" points="725.4,538.5 726.4,538.2 726.6,540 725.5,540.1"/>
<polygon id="p131" points="847.5,546.2 851.2,542.5 856.2,538.8 861.2,537 866.2,533.8 871.2,530 873.8,528.2 872.5,532 869.5,536.2 868.8,540 865,543 860,545 857.5,550 852.5,551.2 848.8,549.5"/>
<polygon id="p132" points="589.7,542.9 592.3,539.8 595.7,540.9 600,538.1 605.1,539.8 610.2,540.9 615.3,540.3 620.4,538.6 624.7,536.9 628.6,535.7 628.1,539.5 625.9,543.8 624.7,548.9 625.6,554 624.7,558.3 623.9,560.3 620.4,560 616.2,558.3 611.9,555.7 607.6,554 603.4,552.8 599.1,550.6 594.8,548.9 591.4,547.2 589.7,544.9"/>
<polygon id="p133" points="618.7,531 620.8,531.3 621.3,533 619.6,533"/>
<polygon id="p134" points="583.2,560.3 584.9,560 585.5,561.7 583.8,562"/>
<polygon id="p135" points="595.2,574.5 596.9,574.1 597.1,575.5 595.4,575.7"/>
<polygon id="p136" points="612.8,571.6 614.5,571.1 615.7,572.6 614,572.9"/>
<polygon id="p137" points="615.3,573.1 617.4,573.3 618.1,574.8 616.2,574.8"/>
<polygon id="p138" points="605.1,497.3 606.8,497.7 606.6,498.9 605.1,498.5"/>
</defs>
<g class="us">
<use href="#p0"/>
<use href="#p1"/>
<use href="#p2"/>
<use href="#p3"/>
<use href="#p4"/>
<use href="#p5"/>
<use href="#p6"/>
<use href="#p7"/>
<use href="#p8"/>
<use href="#p9"/>
<use href="#p11"/>
<use href="#p12"/>
<use href="#p13"/>
<use href="#p14"/>
<use href="#p15"/>
<use href="#p16"/>
<use href="#p18"/>
<use href="#p19"/>
<use href="#p20"/>
<use href="#p21"/>
<use href="#p22"/>
<use href="#p23"/>
<use href="#p24"/>
<use href="#p25"/>
<use href="#p26"/>
<use href="#p27"/>
<use href="#p28"/>
<use href="#p29"/>
<use href="#p30"/>
<use href="#p31"/>
<use href="#p32"/>
<use href="#p33"/>
<use href="#p34"/>
<use href="#p35"/>
<use href="#p36"/>
<use href="#p37"/>
<use href="#p38"/>
<use href="#p39"/>
<use href="#p40"/>
<use href="#p41"/>
<use href="#p42"/>
<use href="#p43"/>
<use href="#p44"/>
<use href="#p45"/>
<use href="#p46"/>
<use href="#p47"/>
<use href="#p48"/>
<use href="#p49"/>
<use href="#p50"/>
<use href="#p51"/>
<use href="#p52"/>
<use href="#p53"/>
<use href="#p54"/>
<use href="#p55"/>
<use href="#p56"/>
<use href="#p57"/>
<use href="#p58"/>
<use href="#p59"/>
<use href="#p60"/>
<use href="#p61"/>
<use href="#p62"/>
<use href="#p63"/>
<use href="#p64"/>
<use href="#p65"/>
<use href="#p66"/>
<use href="#p67"/>
<use href="#p68"/>
<use href="#p69"/>
<use href="#p70"/>
<use href="#p71"/>
<use href="#p72"/>
<use href="#p73"/>
<use href="#p74"/>
<use href="#p75"/>
<use href="#p76"/>
<use href="#p77"/>
<use href="#p78"/>
<use href="#p79"/>
<use href="#p80"/>
<use href="#p81"/>
<use href="#p82"/>
<use href="#p83"/>
<use href="#p84"/>
<use href="#p85"/>
<use href="#p86"/>
<use href="#p87"/>
<use href="#p88"/>
<use href="#p89"/>
<use href="#p90"/>
<use href="#p91"/>
<use href="#p92"/>
<use href="#p93"/>
<use href="#p94"/>
<use href="#p95"/>
<use href="#p96"/>
<use href="#p97"/>
<use href="#p98"/>
<use href="#p99"/>
<use href="#p100"/>
<use href="#p101"/>
<use href="#p102"/>
<use href="#p103"/>
<use href="#p104"/>
<use href="#p105"/>
<use href="#p106"/>
<use href="#p107"/>
<use href="#p108"/>
<use href="#p109"/>
<use href="#p110"/>
<use href="#p111"/>
<use href="#p112"/>
<use href="#p113"/>
<use href="#p114"/>
<use href="#p115"/>
<use href="#p116"/>
<use href="#p117"/>
<use href="#p118"/>
<use href="#p119"/>
<use href="#p120"/>
<use href="#p121"/>
<use href="#p122"/>
<use href="#p123"/>
<use href="#p124"/>
<use href="#p125"/>
<use href="#p126"/>
<use href="#p127"/>
<use href="#p128"/>
<use href="#p129"/>
<use href="#p130"/>
<use href="#p131"/>
<use href="#p132"/>
<use href="#p133"/>
<use href="#p134"/>
<use href="#p135"/>
<use href="#p136"/>
<use href="#p137"/>
<use href="#p138"/>
</g>
<g class="fl">
<use class="c4" href="#p0"/>
<use class="na" href="#p1"/>
<use class="na" href="#p2"/>
<use class="na" href="#p3"/>
<use class="c2" href="#p4"/>
<use class="c2" href="#p5"/>
<use class="c2" href="#p6"/>
<use class="c3" href="#p7"/>
<use class="c2" href="#p8"/>
<use class="c3" href="#p9"/>
<use class="w" href="#p10"/>
<use class="c2" href="#p11"/>
<use class="c2" href="#p12"/>
<use class="c2" href="#p13"/>
<use class="c2" href="#p14"/>
<use class="c3" href="#p15"/>
<use class="c4" href="#p16"/>
<use class="w" href="#p17"/>
<use class="c4" href="#p18"/>
<use class="c4" href="#p19"/>
<use class="c4" href="#p20"/>
<use class="c4" href="#p21"/>
<use class="c4" href="#p22"/>
<use class="c4" href="#p23"/>
<use class="c4" href="#p24"/>
<use class="c4" href="#p25"/>
<use class="c4" href="#p26"/>
<use class="c4" href="#p27"/>
<use class="c2" href="#p28"/>
<use class="c2" href="#p29"/>
<use class="c2" href="#p30"/>
<use class="c2" href="#p31"/>
<use class="c3" href="#p32"/>
<use class="c3" href="#p33"/>
<use class="c4" href="#p34"/>
<use class="c1" href="#p35"/>
<use class="c2" href="#p36"/>
<use class="c2" href="#p37"/>
<use class="c2" href="#p38"/>
<use class="c2" href="#p39"/>
<use class="c3" href="#p40"/>
<use class="c2" href="#p41"/>
<use class="c4" href="#p42"/>
<use class="c4" href="#p43"/>
<use class="c4" href="#p44"/>
<use class="c4" href="#p45"/>
<use class="c4" href="#p46"/>
<use class="c1" href="#p47"/>
<use class="na" href="#p48"/>
<use class="c3" href="#p49"/>
<use class="c2" href="#p50"/>
<use class="c2" href="#p51"/>
<use class="c3" href="#p52"/>
<use class="c2" href="#p53"/>
<use class="c1" href="#p54"/>
<use class="c1" href="#p55"/>
<use class="c1" href="#p56"/>
<use class="c2" href="#p57"/>
<use class="c2" href="#p58"/>
<use class="c2" href="#p59"/>
<use class="c2" href="#p60"/>
<use class="c3" href="#p61"/>
<use class="c2" href="#p62"/>
<use class="c3" href="#p63"/>
<use class="c3" href="#p64"/>
<use class="c3" href="#p65"/>
<use class="c1" href="#p66"/>
<use class="c1" href="#p67"/>
<use class="c1" href="#p68"/>
<use class="c1" href="#p69"/>
<use class="c1" href="#p70"/>
<use class="c2" href="#p71"/>
<use class="c2" href="#p72"/>
<use class="c2" href="#p73"/>
<use class="c2" href="#p74"/>
<use class="c2" href="#p75"/>
<use class="c2" href="#p76"/>
<use class="c2" href="#p77"/>
<use class="c1" href="#p78"/>
<use class="c2" href="#p79"/>
<use class="c4" href="#p80"/>
<use class="c4" href="#p81"/>
<use class="c4" href="#p82"/>
<use class="c4" href="#p83"/>
<use class="c4" href="#p84"/>
<use class="c4" href="#p85"/>
<use class="c4" href="#p86"/>
<use class="c4" href="#p87"/>
<use class="c4" href="#p88"/>
<use class="c4" href="#p89"/>
<use class="c4" href="#p90"/>
<use class="c4" href="#p91"/>
<use class="c4" href="#p92"/>
<use class="c4" href="#p93"/>
<use class="c4" href="#p94"/>
<use class="c4" href="#p95"/>
<use class="c4" href="#p96"/>
<use class="c4" href="#p97"/>
<use class="c4" href="#p98"/>
<use class="c4" href="#p99"/>
<use class="c4" href="#p100"/>
<use class="c4" href="#p101"/>
<use class="c4" href="#p102"/>
<use class="c4" href="#p103"/>
<use class="c4" href="#p104"/>
<use class="c4" href="#p105"/>
<use class="c4" href="#p106"/>
<use class="c4" href="#p107"/>
<use class="c4" href="#p108"/>
<use class="c4" href="#p109"/>
<use class="c4" href="#p110"/>
<use class="c4" href="#p111"/>
<use class="c4" href="#p112"/>
<use class="c4" href="#p113"/>
<use class="c4" href="#p114"/>
<use class="c4" href="#p115"/>
<use class="c4" href="#p116"/>
<use class="c4" href="#p117"/>
<use class="c4" href="#p118"/>
<use class="c4" href="#p119"/>
<use class="c4" href="#p120"/>
<use class="c4" href="#p121"/>
<use class="c4" href="#p122"/>
<use class="c4" href="#p123"/>
<use class="c4" href="#p124"/>
<use class="c4" href="#p125"/>
<use class="c4" href="#p126"/>
<use class="c4" href="#p127"/>
<use class="c4" href="#p128"/>
<use class="c4" href="#p129"/>
<use class="c4" href="#p130"/>
<use class="c4" href="#p131"/>
<use class="c2" href="#p132"/>
<use class="c2" href="#p133"/>
<use class="c2" href="#p134"/>
<use class="c2" href="#p135"/>
<use class="c2" href="#p136"/>
<use class="c2" href="#p137"/>
<use class="c2" href="#p138"/>
</g>
<polyline class="fj" points="551.9,244.7 554.7,247 557.8,247.8 560.4,246.6"/>
<polyline class="rbd" points="542.4,259.7 546.5,259 552.2,258.1 554.7,259.7 555.3,261.8"/>
<polyline class="rb" points="548.7,290.5 552.1,292.6 554.9,294.6 557.6,296 559.7,294.4 561,296 562.4,298 565.1,296.7 567.2,291.9 567.9,288.5"/>
<polyline class="rb" points="565.1,296.7 567.2,299.4 571.3,302.6 574.7,301.2 578.8,299.4 584.3,300.1 588.4,298.7 592.5,296.7 595.9,296 599.3,298"/>
<polyline class="rb" points="571.3,302.6 572.7,304.9 569.2,306.3 566.5,308.3 567.9,312.4 567.2,316.5 565.8,319.9 564.5,322.7 565.1,326.1"/>
<polyline class="rb" points="572.7,304.9 576.1,305.8 579.5,307.6 580.2,312.4 580.9,317.9 584.3,319.9 587.7,322 589.8,324 587.7,325.4 584.3,326.1 580.9,327.5"/>
<polyline class="rb" points="589.8,324 590.5,327.5 594.6,328.8 599.3,328.1 603.4,326.4 605.5,326.8"/>
<polyline class="rb" points="580.9,327.5 580.2,330.9 581.6,334.3 583.6,336.3 581.6,338.4"/>
<polyline class="rb" points="565.1,326.1 567.9,328.8 571.3,330.2 574.7,332.2 577.5,333.6 580.9,335.7 583.6,336.3"/>
<polyline class="rb" points="565.1,326.1 561.7,328.1 559,330.9 560.4,334.3 559.7,337 558.3,340.5 559,343.2 562.4,345.2 566.5,345.9 570.6,345.2 572.7,343.9 574.7,341.1 578.8,339.8 581.6,338.4"/>
<polyline class="rb" points="526.8,311 530.9,314.5 535,313.1 537.8,315.1 538.5,317.9 541.9,318.6 543.3,314.5 546.7,313.8 549.4,313.5 550.1,317.2 552.1,320.6 553.5,324 552.8,326.8"/>
<polyline class="rb" points="552.8,326.8 549.4,328.8 546.7,330.9 544.6,334.3 542.6,337 540.5,339.8 539.2,341.1"/>
<polyline class="rb" points="552.8,326.8 555.6,330.2 559,330.9"/>
<polyline class="rb" points="539.2,341.1 536.4,338.4 533,340.5 529.6,342.5 526.2,344.6 522.7,345.9 520,346.6"/>
<polyline class="rb" points="539.2,341.1 540.5,344.6 538.5,348 537.1,352.1"/>
<polyline class="rb" points="558.3,340.5 556.3,343.9 553.5,346.6 550.8,349.3 548.7,352.1"/>
<polyline class="rb" points="553.5,355.5 556.3,357.6 559,360.3 559.7,364.4 561,368.5 563.1,371.9 561,375.4 559,378.8 559.7,382.9 560.4,387.7 559.7,391.1"/>
<polyline class="rb" points="536.4,352.8 540.5,354.2 542.6,358.3 545.3,360.3 549.4,359.6 550.8,356.9 553.5,355.5"/>
<polyline class="rb" points="550.8,356.9 548.7,352.8 550.1,350 554.2,348.7 557.6,345.3 559,343.2 557.6,339.8 559.7,336.4 561,335"/>
<polyline class="rb" points="559,343.2 562.4,345.3 565.1,347.3 567.2,345.3 570.6,345.9 572.7,343.9 576.1,344.6 578.8,342.5 580.2,345.3 582.2,348"/>
<polyline class="rb" points="536.4,352.8 537.8,348.7 536.4,345.3 538.5,341.8 537.1,338.4 537.8,335"/>
<polyline class="rb" points="526.2,358.9 528.9,358.3 530.9,360.3 530.3,363 528.2,364.4"/>
<ellipse class="rb" cx="591.5" cy="311.7" rx="3.0" ry="2.2"/>
<ellipse class="rb" cx="546.0" cy="302.6" rx="1.1" ry="1.1"/>
<polyline class="rbd" points="588.4,383.6 591.1,382.9 594.6,383.6 596.6,386.3 597.3,389.7 598,392.5 600.7,395.2 600,397.9 596.6,399.3 592.5,398.6 588.4,397.9 584.3,398.6 581.6,397.2 583.6,395.2 585.7,392.5 587.7,391.1"/>
<polyline class="rbd" points="608.6,374 610.3,376.7 608.9,380.1 607.6,382.9 609.6,385.6 607.6,387.7 603.4,388.4 599.3,389.7 597.3,389.7"/>
<polyline class="rbd" points="609.6,385.6 614.4,385.3 618.5,386.3 621.9,387.7 624,389.7 625.3,392.5 624.7,396.6 625.3,400"/>
<polyline class="rbd" points="600,397.9 604.8,398.6 608.9,397.9 613,398.6 614.4,402 613.7,404.1"/>
<polyline class="rbd" points="634.2,377.4 632.2,381.5 629.4,384.9 628.1,387.7 626,389.7 625.3,392.5"/>
<polyline class="rbd" points="561,395.9 560.4,398.6 561,402"/>
<polyline class="rbd" points="585,354.2 589.8,352.8 593.9,350.7 596.6,348.7 600.7,346.6 604.1,344.6 607.6,343.2 609.6,341.8"/>
<polyline class="rbd" points="593.9,350.7 596.6,354.2 598,358.9 602.1,359.4 607.6,358.3 610.3,357.6"/>
<polyline class="rbd" points="609.6,341.8 612.3,345.9 614.4,350 613.7,353.5 610.3,357.6 608.9,360.3 613,363.7 617.1,366.5"/>
<polyline class="rbd" points="614.4,352.8 619.9,354.2 625.3,355.5 629.4,356.2"/>
<polyline class="rbd" points="628.1,344.6 628.8,350 629.4,356.2 631.5,361 634.9,364.4 637.6,365.8"/>
<polyline class="rbd" points="632.2,345.3 634.9,348.7 637.6,350.7 640,352.1"/>
<ellipse class="rbd" cx="626.4" cy="378.1" rx="2.4" ry="1.4"/>
<ellipse class="rbd" cx="604.1" cy="350.0" rx="2.7" ry="1.9"/>
<polyline class="rbf" points="474.3,405.1 476,409.1 475.4,413.7 474.3,418.3 472.6,421.7 470.3,424.6 469.1,427.4 469.7,430.9 471.4,433.7 474.9,431.4 477.1,429.1 479.4,432 482.9,429.7 486.3,431.4 489.1,434.3 490.3,437.7 492,440 495.4,440.6 497.7,441.7"/>
<polyline class="rbf" points="497.7,441.7 498.9,445.1 497.7,448 495.4,450.3 493.1,452.8"/>
<polyline class="rbf" points="497.7,441.7 500.6,439.4 502.9,441.1 505.7,443.4 508.6,444 509.1,441.7 506.9,440 508,437.7 510.9,435.4 513.7,433.7 516.6,432.6 517.1,429.7 519.4,429.1 521.7,429.9"/>
<polyline class="rbf" points="460,429.7 462.9,426.3 466.3,427.4 469.1,427.4"/>
<polyline class="rbf" points="483.4,400 486.9,401.7 489.7,403.4 491.4,406.9 492.6,409.7 495.4,410.9 498.9,409.7 501.7,410.9 502.9,407.4 505.1,406.3 508,408.6 511.4,410.3 514.6,410.9"/>
<polyline class="rbf" points="474.3,405.1 478.3,402.9 482.3,401.1 483.4,400"/>
<polyline class="rb" points="535.4,419.4 533.1,422.3 528.6,422.9 525.7,423.4"/>
<polyline class="rb" points="544.6,415.4 544,420 545.1,423.4 542.3,426.9 543.4,430.3 546.3,433.1 548.6,436 549.7,437.7"/>
<polyline class="rb" points="549.7,437.7 545.7,438.9 541.7,439.4 538.3,440.6 536,444 533.1,445.7 531.4,445.7"/>
<polyline class="rb" points="549.7,437.7 552.6,434.3 554.9,430.9 558.3,430.3 560,430.9"/>
<polyline class="rb" points="549.7,437.7 551.4,439.4 554.9,441.1 558.3,444"/>
<polyline class="rbf" points="471,347.3 474.2,351.3 473.7,356.1 472.6,360.1 470.2,363.3 469.9,365.7"/>
<polyline class="rbf" points="470.2,363.3 473.4,360.9 477.4,361.4 481.3,363 485.3,363.6 489.3,366.8 490.9,368.1"/>
<polyline class="rbf" points="490.9,368.1 492.5,363.3 494.9,360.9 497.3,356.9 498.9,353.7 499.7,351.3"/>
<polyline class="rbf" points="490.9,368.1 489.3,372 487.7,375.2 485.3,376.8 483.7,378.4"/>
<polyline class="rbf" points="441.8,367.7 446.3,368.1 451,369.3 455,370.5 457.4,372.8 461.4,374.4"/>
<polyline class="rbf" points="451.4,390.4 447,391.2 442.3,391.2 440.7,393.6 441.8,398.4 442.7,402.4 437.5,403.1"/>
<polyline class="rbf" points="475,404.4 476.6,407.9 476.2,412.7 475,417.5 472.6,422.3 471,424"/>
<polyline class="rbf" points="487.7,375.2 491.7,379.2 495.7,382.4 502.1,383.2 506.1,387.2 509.3,388.8 513.2,386.4 517.2,384 522,383.2 526,386.4 527.6,391.2"/>
<polyline class="rbf" points="482.9,400 487.7,401.6 490.1,403.9 491.7,407.9 493.3,410.3 497.3,408.7 501.3,410.3 505.3,406.3 510,407.9 514,409.5 516.4,408.7"/>
<polyline class="rb" points="620.1,278.2 621.4,282.6 622,286.3 623.3,290.1 624.5,292.6 627.7,293.2"/>
<polyline class="rb" points="627.7,293.2 630.8,290.1 635.2,288.8 639,289.5 642.7,290.7 645.3,290.1 647.1,286.3 645.3,282.6 645.9,278.8"/>
<polyline class="rb" points="645.3,290.1 647.8,293.2 650.3,295.1 650.3,297"/>
<polyline class="rb" points="667.9,289.5 671.6,287.6 675.4,284.4 677.9,281.3 677.3,277.5 676.7,273.5"/>
<polyline class="rb" points="684.8,305.8 688,304.5"/>
<polyline class="rb" points="624.5,292.6 622,296.4 619.5,299.5 615.7,301.4 611.3,303.3 607.6,305.2 603.8,307.1 601.3,308.9"/>
<polyline class="rb" points="615.7,301.4 615.1,306.4 615.7,311.5 617.6,316.5 620.1,319.6 620.8,321.5"/>
<polyline class="rb" points="620.8,321.5 616.4,324 612.6,326.5 608.8,327.8 606.9,327.2"/>
<polyline class="rb" points="627.7,293.2 628.7,297 629.5,301.4 631.4,304.5 635.2,306.4 639,307.7 643.4,309.2 647.1,310.5 649,307.7"/>
<polyline class="rb" points="647.1,310.5 645.3,314 643.4,317.7 641.5,321.5 640.2,325.9 639,329.7"/>
<polyline class="rb" points="620.8,321.5 625.2,323.4 628.9,324.6 632.7,325.9 635.2,327.8 636.5,329.7 639,329.7"/>
<polyline class="rb" points="639,329.7 642.7,330.3 647.8,330.9 652.8,331.6 656.6,332.2 657.8,329 660.3,326.5 663.5,324.6"/>
<polyline class="rb" points="636.5,329.7 634.6,332.8 632.7,336.6 631.4,340.4 630.8,342.9"/>
<polyline class="rb" points="645.3,330.9 644.6,335.3 644,339.7 643.4,344.1 642.1,348"/>
<polyline class="rb" points="656.6,332.2 657.8,335.3 655.3,338.5 653.4,342.2 652.2,345.4 651.5,348"/>
<polyline class="rb" points="675.4,325.9 677.3,329.7 680.4,330.9 682.9,332.2 684.8,335.3 689.2,336 694.2,335.3"/>
<polyline class="rb" points="677.3,329.7 675.4,333.4 672.3,336.6 669.1,338.5 666,339.7 663.5,340.4 660.3,337.8 657.8,335.3"/>
<polyline class="rb" points="672.3,336.6 672.9,340.4 674.1,344.1 674.8,348"/>
<polyline class="rb" points="361.3,433.6 362.8,438.3 362,443.1 359.7,447.1 361.3,451.1 362,454.3 359.7,457.5"/>
<polyline class="rb" points="362,443.1 367.6,442.3 374,443.9 380.4,443.9 386.8,443.1 389.2,446.3 393.1,449.5 396.3,451.1 397.9,447.9 401.9,447.1 405.1,446.3 406.7,449.5 405.9,454.3 406.7,457.5"/>
<polyline class="rb" points="406.7,457.5 408.3,455.9 410.7,458.3 413.9,460.7 417.1,462.3 419.5,463.9 420.3,467"/>
<polyline class="rb" points="406.7,457.5 405.1,459.9 405.9,463.1 409.1,465.5 413.1,466.3 417.1,467.8 420.3,467"/>
<polyline class="rb" points="421.9,447.9 418.7,451.1 415.5,454.3 413.1,457.5 413.9,460.7"/>
<polyline class="rb" points="432.2,458.3 429,460.7 426.6,463.9 425,467.8 421.9,468.6 420.3,467"/>
<polyline class="rb" points="420.3,467 418.7,471.8 417.1,475.8 414.7,479.8 413.9,481.4"/>
<polyline class="rb" points="450.6,460.7 449.8,466.3 448.2,471 445.8,476.6 443.4,481.4 441.8,487 441,491.8"/>
<polyline class="rb" points="383.6,490.2 388.4,486.2 393.1,482.2 397.1,478.2"/>
<polyline class="rb" points="353.3,485.4 357.3,483.8 361.3,482.5 365.2,484.6 369.2,487 372.4,490.2"/>
<polyline class="rb" points="364.4,517.3 367.6,514.1 370.8,513.3 373.2,514.1"/>
<polyline class="rbf" points="452.2,436.7 447.4,438.3 442.6,440.7 441,444.7 442.6,447.9 441,451.9 438.6,456.7"/>
<polyline class="rb" points="347,516 353,520 358,521 363,519 365,515 370,513 373.6,511"/>
<polyline class="rb" points="550.5,433.7 552.3,430.5 556,430 559.7,431 563.3,431.9 567,432.8 571.6,433.7 575.3,432.8"/>
<polyline class="rb" points="545,436.9 548.7,437.8 550.5,438.8 553.3,440.1 556,442"/>
<polyline class="rb" points="550.5,438.8 549.6,436 550.5,433.7"/>
<polyline class="rb" points="584.9,451.6 586.7,449.8 588.1,447.9 588.6,446.6"/>
<polyline class="rb" points="595.9,465.8 598.7,464.9 601.4,464 603.7,463.5"/>
<polyline class="rb" points="595,467.7 596.4,470 595.9,472.7 597.8,475 596.4,477.3 595,478.2 598.2,480 601.9,482"/>
<polyline class="rbf" points="588.3,406.1 585.7,409.2 584.7,412.3 586.2,415.9 589.3,418.5 592.9,419.5"/>
<polyline class="rb" points="564.6,408.7 564.1,412.8 564.6,416.4 567.2,419 570.3,420.1"/>
<polyline class="rb" points="733.4,434.7 733.6,438.8 732.7,442.9 731.7,446.3 732.7,449.7"/>
<polyline class="rb" points="732.7,449.7 726.5,451.4 722.4,450.4 718.3,449 714.2,447.7 709.4,447.7"/>
<polyline class="rb" points="732.7,449.7 737.5,449 742.9,447 745.7,443.6 748.4,442.2 753.9,441.5 759.3,440.8 764.1,442.9"/>
<polyline class="rb" points="745.7,443.6 743.2,440.1 744.3,436.7 748.4,435.4 751.1,433.3 752.5,429.9 755.9,427.1 758,424.8"/>
<polyline class="rb" points="732.7,449.7 734,453.1 736.1,456.6 740.2,458.2 744.3,457.2 748.4,458.2 752.5,455.9 754.6,457.9"/>
<polyline class="rb" points="726.5,451.4 725.8,454.5 722.7,456.6 721.7,460.7 722.4,464.8 724.5,469.6 725.8,473"/>
<polyline class="rb" points="699.2,399.8 703.3,404.6 706.7,408.7 709.4,410.7"/>
<polyline class="rb" points="709.4,410.7 714.2,409.4 719.7,407.3 725.1,406.6 728.6,408 732.7,406.6 737.5,405.3 738.8,400.5 739.5,395"/>
<polyline class="rb" points="709.4,410.7 705.3,412.8 700.5,415.5 699.2,419.6 698.5,423.7 696.4,425.8"/>
<polyline class="rb" points="719.7,407.3 721,412.8 723.1,417.6 725.8,421.7 727.9,425.8 727.2,430.6 726.5,434.9"/>
<polyline class="rb" points="737.5,405.3 740.2,408.7 744.3,412.1 749.8,412.8 754.6,412.1 759.3,411.4 762.1,414.2 762.1,417.6 759.3,420.3 755.9,422.4 752.5,423.7 749.8,425.8"/>
<ellipse class="rb" cx="740.6" cy="419.4" rx="2.7" ry="3.8"/>
<polyline class="rb" points="718.7,372.1 719.3,375.6 720.7,380.4 722.1,380.4 726.9,381 730.3,384.5 733,388.6 735.8,392 738.5,394.7 745.3,392.7 750.8,391.3 754.9,392"/>
<polyline class="rb" points="720.7,380.4 718.7,382.4 716.6,385.8 713.9,388.6 711.8,390.6 711.1,394 707,394.7 702.2,396.1 697.5,396.1 694,395.4 689.2,395 684.5,396.1"/>
<polyline class="rb" points="702.2,396.1 704.3,400.2 707,404.3 709.1,408.4 710.5,410 705.7,411.8 700.9,413.9 700.2,418 698.8,425"/>
<polyline class="rb" points="710.5,410 714.6,408.4 719.3,407 723.4,405.7 727.6,405.4 733,407 737.8,405.4 739.2,400.2 738.5,394.7"/>
<polyline class="rb" points="719.3,407 720.7,411.1 722.1,416.6 724.1,422.1 724.8,425"/>
<polyline class="rb" points="737.8,405.4 739.9,408.4 742.6,411.1 748.1,412.5 753.5,411.8 760,411.1"/>
<polyline class="rb" points="653.7,379 657.8,380.4 662.6,382.4 667.4,383.8 669.4,384.5 672.8,381 675.8,376.9 679,373.5 681,370.8 683.8,369.4"/>
<polyline class="rb" points="669.4,384.5 668,389.2 668.7,392.7 669.4,395.4 672.8,392.7 676.3,389.9 679.7,390.6 682.4,391.3 684.5,391.3"/>
<polyline class="rb" points="653.7,379 653,383.8 655,387.9 656.1,392.7 656.4,397.5 656.1,402.9 656.4,407 657.1,411.1"/>
<polyline class="rb" points="656.4,397.5 660.5,394.7 664.6,394 669.4,395.4"/>
<polyline class="rb" points="640,398.8 644.1,400.2 648.2,398.8 652.3,400.2 656.1,398.8"/>
<ellipse class="rb" cx="656.4" cy="386.5" rx="1.8" ry="1.8"/>
<polyline class="rbd" points="645.2,357.8 646.8,361.9 649.6,366 648.2,370.1 651.6,374.2 653.7,376.9"/>
<polyline class="rbd" points="662.6,358.5 663.9,361.9 666.7,366 668,369.4"/>
<polyline class="rb" points="648.3,125.5 652.9,127.3 657.4,131 661.1,133.7 663.8,130.1 666.5,125.5 670.2,126.4 673.8,127.3 675.6,132.8 678.4,138.3 680.2,143.7 679.3,148.3 681.1,152.8"/>
<polyline class="rb" points="681.1,152.8 683.8,156.5 688.4,159.2 693,157.4 697.5,153.7 702.1,149.2 706.6,144.6"/>
<polyline class="rb" points="648.3,170.1 653.8,169.2 659.3,168.3 664.7,166.5 669.3,162.8 673.8,158.3 677.5,153.7 681.1,152.8"/>
<polyline class="rb" points="665.6,177.4 666.5,173.8 669.3,171.9 673.8,170.1 679.3,168.9 683.8,168.3 685.7,171"/>
<polyline class="rbg" points="589.1,113.7 595.5,120 601.9,125.5 608.3,128.8 615.5,127.3 622.8,129.1 628.3,131.9"/>
<polyline class="rbg" points="576.4,158.3 580.9,161 586.4,163.8 591.9,166.5 594.6,161.9 597.3,156.5 601.9,155.6 608.3,155.6 613.7,155.6"/>
<polyline class="rbg" points="593.7,192 598.2,191.1 602.8,192.9 606.4,189.3 611,185.6 615.5,183.8 621,182.9"/>
<polyline class="rbg" points="602.8,192.9 603.7,198.4 601.9,203.8 603.7,209.3 604.6,213.1"/>
<polyline class="rbg" points="619.2,196.5 621,202 623.7,205.6"/>
<polyline class="rbg" points="586.4,209.3 591.9,207.5 597.3,209.3"/>
<polyline class="rbg" points="594.1,192.8 602.1,192 610,189.6 614.8,186.4 621.2,184"/>
<polyline class="rbg" points="594.1,192.8 595.7,200.7 593.3,206.3 597.3,211.9 595.7,218.3 602.1,223.1 610,221.5 615.6,224.7"/>
<polyline class="rbg" points="579.7,208.7 586.1,210.3 593.3,206.3"/>
<polyline class="rbg" points="595.7,218.3 590.9,226.3 586.9,232.6 585.3,240.6 589.3,247 595.7,248.6 603.7,247.8 610,250.2"/>
<polyline class="rbg" points="585.3,240.6 579.7,240.6"/>
<polyline class="rbf" points="539.1,191.2 544.7,190.4 549.4,192 553.4,195.2 555,199.1 558.2,200.7 563,199.1"/>
<polyline class="rbf" points="535.9,197.5 539.1,202.3 541.5,207.9 546.3,209.5 549.4,211.9 552.6,208.7"/>
<polyline class="rbg" points="394,270 391,273 389,279 387,282 380,281"/>
<polyline class="rbg" points="389,279 390,285 395,288 401,289 405,287"/>
<polyline class="rb" points="522.4,297.5 522.7,299.9 523.8,302.3 523.4,304.4 522.4,305.4 519.6,306.1 516.8,306.5 514.1,306.5 513,305.1 512.7,304"/>
<polyline class="rb" points="523.8,302.3 525.8,301.6 527.9,302.6 530,305.1"/>
<polyline class="rb" points="522.4,305.4 522,307.8 523.4,309.2 525.1,309.9 526.5,311"/>
<polyline class="rb" points="514.1,306.5 512.7,308.5 511.3,310.6 511.6,312.7 512.7,314.8 514.4,315.8 516.1,314.4 517.9,313 518.9,311.3 518.6,308.9 517.5,307.1 516.8,306.5"/>
<polyline class="rb" points="518.9,311.3 520.3,312.7 521,314.8 522.7,316.5 524.8,317.2 526.5,317.5 527.6,318.2"/>
<polyline class="rb" points="505.8,314.8 507.8,315.4 509.6,314.8 511,315.4 511.3,310.6"/>
<polyline class="rb" points="507.8,315.4 508.2,318.2 509.2,320.3 511.3,320.6 513.4,320.3 515.4,320.3 515.1,317.5 514.4,315.8"/>
<polyline class="rb" points="500.9,323.8 503,323.1 505.8,322.7 508.5,322.4 510.3,321.3 511.3,320.6"/>
<polyline class="rb" points="510.3,321.3 512.7,322.4 515.4,322.7 517.5,323.1 518.6,323.8"/>
<polyline class="rb" points="500.9,323.8 501.6,325.8 502,328"/>
<polyline class="rb" points="603.4,464.3 599.3,466.3 596.7,468.4 596.2,471.5 597.2,474.1 595.2,476.6 597.2,479.2 601.3,481.3 604.4,482.8 606.5,483.4"/>
<polyline class="rb" points="606.5,483.4 605.5,487 604.4,489.5"/>
<polyline class="rb" points="618.4,484.4 620.9,488 623,491.1 624,494.7"/>
<polyline class="rb" points="619.4,481.8 619.1,479.5"/>
<polyline class="rbd" points="699.4,485.8 702.1,489.2 705.8,494 706.9,496"/>
<polyline class="rbd" points="706.9,496 702.8,498.8 699.4,501.5 696,502.9"/>
<polyline class="rbd" points="690.5,497.4 693.3,500.8 696,502.9 697.4,507 695.3,509.7 698.7,513.1 702.1,517.9 702.8,522"/>
<polyline class="rbd" points="706.9,496 711,498.1 715.1,500.1 717.2,502.2"/>
<polyline class="rbd" points="697.4,507 702.8,507.7 708.3,509 712.4,507.7 717.2,508.4"/>
<polyline class="rbd" points="698.7,513.1 704.2,512.5 709.7,513.8 715.1,515.2"/>
<polyline class="rbd" points="721.3,475.5 724,478.3 726.8,480.3 728.1,481.7"/>
<polyline class="rbd" points="711,526.6 713.8,530.3 712.4,533.7 709,535 707.6,538.5 709.7,541.2 708.3,543.3"/>
<g class="nat">
<use href="#p0"/>
<use href="#p1"/>
<use href="#p4"/>
<use href="#p28"/>
<use href="#p32"/>
<use href="#p33"/>
<use href="#p35"/>
<use href="#p37"/>
<use href="#p38"/>
<use href="#p42"/>
<use href="#p43"/>
<use href="#p44"/>
<use href="#p45"/>
<use href="#p46"/>
<use href="#p47"/>
<use href="#p48"/>
<use href="#p49"/>
<use href="#p53"/>
<use href="#p61"/>
<use href="#p62"/>
<use href="#p78"/>
<use href="#p79"/>
</g>
</g>
<defs><linearGradient id="fade" x1="1" y1="0" x2="0" y2="1"><stop offset="0" stop-color="#fff" stop-opacity="0"/><stop offset="0.8" stop-color="#fff" stop-opacity="0.9"/></linearGradient></defs>
<g id="logo">
<polygon points="29.8,11.9 36.4,9.9 41.7,12.5 47.0,9.9 53.6,9.2 60.2,11.9 65.5,17.2 67.5,23.8 66.8,30.4 62.8,33.0 56.2,34.3 49.6,36.3 43.0,35.7 36.4,37.0 29.8,37.6 24.5,37.0 21.9,33.7 24.5,31.0 28.5,29.7 29.8,26.4 27.8,23.8 29.8,19.8 33.8,17.2 31.8,14.5" fill="#b4d98c"/>
<path d="M22.5 16.5 Q29.8 11.9 34.4 10.7 Q39.1 9.5 43.7 9.2 Q48.3 9.0 52.3 9.8 Q56.2 10.6 59.2 12.2 Q62.2 13.9 63.8 15.5 L65.5 17.2" fill="none" stroke="#1c2f5e" stroke-width="1.45" stroke-linecap="round" stroke-linejoin="round"/>
<path d="M18.6 25.8 Q25.9 23.8 31.1 22.8 Q36.4 21.8 41.7 21.3 Q47.0 20.9 52.3 20.9 Q57.6 20.9 61.5 21.3 Q65.5 21.8 67.1 22.5 L68.8 23.1" fill="none" stroke="#1c2f5e" stroke-width="1.45" stroke-linecap="round" stroke-linejoin="round"/>
<path d="M19.2 38.3 Q24.5 37.6 29.2 37.0 Q33.8 36.3 39.1 35.5 Q44.3 34.6 49.6 33.9 Q54.9 33.3 58.9 32.8 Q62.8 32.4 65.5 31.9 L68.1 31.4" fill="none" stroke="#1c2f5e" stroke-width="1.45" stroke-linecap="round" stroke-linejoin="round"/>
<path d="M33.8 5.3 Q28.5 11.9 26.8 15.9 Q25.2 19.8 24.5 24.4 Q23.9 29.1 24.5 33.7 Q25.2 38.3 26.8 41.6 L28.5 44.9" fill="none" stroke="#1c2f5e" stroke-width="1.45" stroke-linecap="round" stroke-linejoin="round"/>
<path d="M40.1 4.6 Q40.6 13.2 41.0 17.8 Q41.4 22.5 41.8 27.1 Q42.2 31.7 42.5 34.7 L42.8 37.6" fill="none" stroke="#1c2f5e" stroke-width="1.45" stroke-linecap="round" stroke-linejoin="round"/>
<path d="M45.7 4.0 Q51.0 9.2 52.9 13.2 Q54.9 17.2 55.7 21.1 Q56.5 25.1 56.7 29.1 Q56.9 33.0 56.6 35.0 L56.2 37.0" fill="none" stroke="#1c2f5e" stroke-width="1.45" stroke-linecap="round" stroke-linejoin="round"/>
<path d="M49.6 5.9 Q57.6 9.2 60.9 12.2 Q64.2 15.2 66.0 18.8 Q67.9 22.5 68.3 26.4 Q68.8 30.4 68.1 32.4 L67.5 34.3" fill="none" stroke="#1c2f5e" stroke-width="1.45" stroke-linecap="round" stroke-linejoin="round"/>
<path d="M27.2 9.2 Q21.2 17.2 19.7 21.8 Q18.2 26.4 18.4 31.0 Q18.6 35.7 20.2 39.6 L21.9 43.6" fill="none" stroke="#1c2f5e" stroke-width="1.2" stroke-linecap="round" opacity="0.75"/>
<rect x="14" y="34" width="24" height="14" fill="url(#fade)"/>
<path d="M37.81 50.82V51.1Q37.81 53.22 38.35 54.4Q38.89 55.58 40.02 56.19Q41.15 56.81 42.99 56.81Q43.95 56.81 45.27 56.67Q46.59 56.53 47.44 56.36V57.22Q46.59 57.7 45.12 58.05Q43.65 58.41 42.12 58.41Q38.22 58.41 36.41 56.59Q34.6 54.78 34.6 50.76Q34.6 46.98 36.43 45.12Q38.27 43.26 41.67 43.26Q48.1 43.26 48.1 49.56V50.82ZM41.67 44.49Q39.82 44.49 38.83 45.78Q37.84 47.07 37.84 49.59H45Q45 46.84 44.18 45.66Q43.36 44.49 41.67 44.49Z" fill="#1c2f5e" stroke="#1c2f5e" stroke-width="0.70" stroke-linejoin="round"/>
<path d="M62.6 57.22Q61.83 57.78 60.47 58.09Q59.12 58.41 57.7 58.41Q50.5 58.41 50.5 50.76Q50.5 47.15 52.34 45.2Q54.17 43.26 57.59 43.26Q59.72 43.26 62.24 43.73V47.76H61.37L60.69 45.21Q59.39 44.49 57.56 44.49Q53.34 44.49 53.34 50.76Q53.34 54.02 54.62 55.42Q55.9 56.81 58.6 56.81Q60.9 56.81 62.6 56.3Z" fill="#62b22f" stroke="#62b22f" stroke-width="0.70" stroke-linejoin="round"/>
<path d="M81 50.79Q81 58.41 72.59 58.41Q68.53 58.41 66.47 56.45Q64.4 54.5 64.4 50.79Q64.4 47.13 66.47 45.2Q68.53 43.26 72.74 43.26Q76.83 43.26 78.92 45.16Q81 47.06 81 50.79ZM77.56 50.79Q77.56 47.47 76.35 45.98Q75.15 44.49 72.59 44.49Q70.08 44.49 68.96 45.92Q67.84 47.35 67.84 50.79Q67.84 54.29 68.98 55.74Q70.12 57.19 72.59 57.19Q75.11 57.19 76.33 55.69Q77.56 54.18 77.56 50.79Z" fill="#62b22f" stroke="#62b22f" stroke-width="0.70" stroke-linejoin="round"/>
<path d="M97.6 57.22Q96.75 57.78 95.24 58.09Q93.74 58.41 92.17 58.41Q84.2 58.41 84.2 50.76Q84.2 47.15 86.23 45.2Q88.27 43.26 92.05 43.26Q94.41 43.26 97.2 43.73V47.76H96.24L95.49 45.21Q94.04 44.49 92.02 44.49Q87.34 44.49 87.34 50.76Q87.34 54.02 88.76 55.42Q90.18 56.81 93.17 56.81Q95.72 56.81 97.6 56.3Z" fill="#1c2f5e" stroke="#1c2f5e" stroke-width="0.70" stroke-linejoin="round"/>
<path d="M81.3 58.1 Q82.1 52.8 82.1 49.5 Q82.0 46.2 81.1 43.3 Q80.3 40.3 79.0 37.8 Q77.6 35.4 77.2 33.4 Q76.7 31.4 77.4 29.9 Q78.0 28.3 79.6 27.5 Q81.1 26.8 82.5 27.2 Q84.0 27.6 84.4 28.6 Q84.9 29.6 84.2 30.4 L83.4 31.2" fill="none" stroke="#62b22f" stroke-width="2.3" stroke-linecap="round" stroke-linejoin="round"/>
<circle cx="83.4" cy="29.6" r="1.7" fill="#62b22f"/>
<rect x="34.2" y="64" width="15.8" height="11" fill="#2a3f98"/>
<circle cx="42.1" cy="69.5" r="2.9" fill="none" stroke="#e6c94a" stroke-width="0.8" stroke-dasharray="0.8 0.72"/>
<text x="53.6" y="66.8" font-family="Liberation Sans,sans-serif" font-size="3.55" font-weight="bold" fill="#33427a" textLength="44.6" lengthAdjust="spacingAndGlyphs">EUROPEAN CENTRE FOR</text>
<text x="53.6" y="70.9" font-family="Liberation Sans,sans-serif" font-size="3.55" font-weight="bold" fill="#33427a" textLength="39.5" lengthAdjust="spacingAndGlyphs">DISEASE PREVENTION</text>
<text x="53.6" y="75.0" font-family="Liberation Sans,sans-serif" font-size="3.55" font-weight="bold" fill="#33427a" textLength="26.5" lengthAdjust="spacingAndGlyphs">AND CONTROL</text>
</g>
<g id="legend">
<rect class="sw" x="17.3" y="137.5" width="29.4" height="14.2" fill="#e8ebb9"/>
<rect class="sw" x="17.3" y="157.3" width="29.4" height="14.2" fill="#b4d56f"/>
<rect class="sw" x="17.3" y="177.1" width="29.4" height="14.2" fill="#65b32e"/>
<rect class="sw" x="17.3" y="196.9" width="29.4" height="14.2" fill="#1f8339"/>
<rect class="sw" x="17.3" y="216.7" width="29.4" height="14.2" fill="#0b4a28"/>
<rect class="sw" x="17.3" y="236.5" width="29.4" height="14.2" fill="#858585"/>
<rect class="sw" x="17.3" y="256.3" width="29.4" height="14.2" fill="#e4e4e4"/>
<rect class="sw2" x="14.6" y="337.7" width="30.3" height="14.3" fill="#0b4a28"/>
<rect class="sw2" x="14.6" y="357.6" width="30.3" height="14.3" fill="#65b32e"/>
<rect class="sw2" x="14.6" y="377.8" width="30.3" height="14.3" fill="#1f8339"/>
<rect class="sw2" x="14.6" y="398.3" width="30.3" height="14.3" fill="#65b32e"/>
<rect class="sw2" x="129.2" y="338.3" width="30" height="14.3" fill="#65b32e"/>
<rect class="sw2" x="129.2" y="358.2" width="30" height="14.3" fill="#65b32e"/>
<rect class="sw2" x="129.2" y="378" width="30" height="14.3" fill="#0b4a28"/>
<rect class="sw2" x="129.2" y="398.5" width="30" height="14.3" fill="#b4d56f"/>
<rect class="sw2" x="17.6" y="487.9" width="30.6" height="14.8" fill="#65b32e"/>
<rect class="sw2" x="129.2" y="488.5" width="30.2" height="14.5" fill="#858585"/>
</g>
</svg>
<div class="t title" style="left:17px;top:86.09px;font-size:12px;transform:scaleX(1.1388)">COVID-19 testing rate</div>
<div class="t title" style="left:17px;top:101.59px;font-size:12px;transform:scaleX(1.1122)">per 100 000 population, EU/EEA</div>
<div class="t title" style="left:17px;top:116.59px;font-size:12px;transform:scaleX(1.1673)">week 22</div>
<div class="t lg" style="left:51.9px;top:140.9px;font-size:10.4px;transform:scaleX(1.0089)">≤300.0</div>
<div class="t lg" style="left:51.9px;top:160.75px;font-size:10.4px;transform:scaleX(0.9943)">300.1 - 999.9</div>
<div class="t lg" style="left:51.9px;top:180.6px;font-size:10.4px;transform:scaleX(1.0028)">1000.0 - 2499.9</div>
<div class="t lg" style="left:51.9px;top:200.45px;font-size:10.4px;transform:scaleX(1.0028)">2500.0 - 4999.9</div>
<div class="t lg" style="left:51.9px;top:220.3px;font-size:10.4px;transform:scaleX(0.9977)">≥5000.0</div>
<div class="t lg" style="left:51.9px;top:240.15px;font-size:10.4px;transform:scaleX(0.9991)">Insufficient data available</div>
<div class="t lg" style="left:51.9px;top:260px;font-size:10.4px;transform:scaleX(0.9919)">Not included</div>
<div class="t h2" style="left:15.5px;top:302.74px;font-size:12px;transform:scaleX(1.0205)">Regions not visible</div>
<div class="t h2" style="left:15.5px;top:318.04px;font-size:12px;transform:scaleX(1.0625)">in the main map extent</div>
<div class="t h2" style="left:18.2px;top:453.04px;font-size:12px;transform:scaleX(1.0346)">Countries not visible</div>
<div class="t h2" style="left:18.2px;top:467.44px;font-size:12px;transform:scaleX(1.0625)">in the main map extent</div>
<div class="t rl" style="left:51.7px;top:341.57px;font-size:10.2px;transform:scaleX(0.9616)">Azores</div>
<div class="t rl" style="left:51.7px;top:357.23px;font-size:8px;transform:scaleX(0.9956)">Guadeloupe</div>
<div class="t rl" style="left:51.7px;top:366.63px;font-size:8px;transform:scaleX(1.0383)">and Saint Martin</div>
<div class="t rl" style="left:51.7px;top:381.87px;font-size:10.2px;transform:scaleX(0.9784)">La Reunion</div>
<div class="t rl" style="left:51.7px;top:401.77px;font-size:10.2px;transform:scaleX(1.0152)">Martinique</div>
<div class="t rl" style="left:166px;top:342.07px;font-size:10.2px;transform:scaleX(0.9948)">Canary Islands</div>
<div class="t rl" style="left:166px;top:361.37px;font-size:10.2px;transform:scaleX(0.9639)">Guyane</div>
<div class="t rl" style="left:166px;top:381.37px;font-size:10.2px;transform:scaleX(0.9508)">Madeira</div>
<div class="t rl" style="left:166px;top:401.27px;font-size:10.2px;transform:scaleX(1.0069)">Mayotte</div>
<div class="t rl" style="left:55.3px;top:490.47px;font-size:10.2px;transform:scaleX(0.9951)">Malta</div>
<div class="t rl" style="left:166.8px;top:491.87px;font-size:10.2px;transform:scaleX(0.9909)">Liechtenstein</div>
<div class="t foot" style="left:6.7px;top:604.6px;font-size:6.5px;transform:scaleX(1.1329)">Administrative boundaries: © EuroGeographics © UN–FAO © Turkstat.©Kartverket©Instituto Nacional de Estatística - Statistics Portugal.</div>
<div class="t foot" style="left:6.7px;top:612.6px;font-size:6.5px;transform:scaleX(1.1180)">The boundaries and names shown on this map do not imply official endorsement or acceptance by the European Union. ECDC. Map produced on: 10 Jun 2021</div>
</body></html>
